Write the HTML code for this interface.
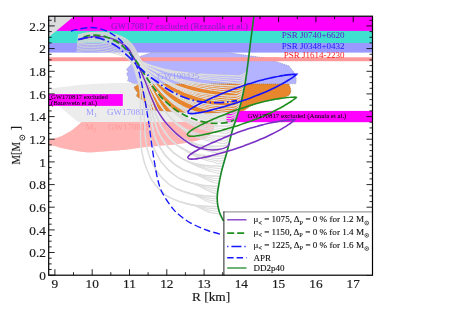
<!DOCTYPE html>
<html><head><meta charset="utf-8"><title>M-R</title><style>html,body{margin:0;padding:0;background:#fff;}body{width:457px;height:324px;overflow:hidden;font-family:"Liberation Serif",serif;}svg{display:block;will-change:transform;}</style></head><body>
<svg width="457" height="324" viewBox="0 0 457 324"><defs><filter id="idf" filterUnits="userSpaceOnUse" x="0" y="0" width="457" height="324"><feOffset dx="0" dy="0"/></filter><clipPath id="plot"><rect x="48.7" y="16.2" width="323.8" height="259"/></clipPath></defs><rect width="457" height="324" fill="#fff"/><g filter="url(#idf)"><g clip-path="url(#plot)">
<rect x="40" y="16.2" width="340" height="26.8" fill="#40e0d0"/>
<rect x="40" y="43" width="340" height="9.6" fill="#9999ff"/>
<rect x="40" y="57.3" width="340" height="3.9" fill="#ff9999"/>
<rect x="40" y="16.2" width="340" height="14.7" fill="#ff00ff"/>
<path d="M50.9 88.9C51.8 88.1 57.6 87.5 60 87.2C62.4 86.9 68.6 86.2 71.5 85.9C74.4 85.6 81.5 84.9 85 84.6C88.5 84.3 97.2 83.8 101.3 83.6C105.4 83.4 115.5 83 120 83C124.5 83 134.2 83.1 140 83.2C145.8 83.3 163 83.7 170 84C177 84.3 193.2 85.1 200 86C206.8 86.9 224.3 90.4 228 92C231.7 93.6 231.8 97.7 232 100C232.2 102.3 230.7 109.4 230 112C229.3 114.6 235.3 120.8 226 122C216.7 123.2 165.9 122 150 122C134.1 122 98.2 122 90 122C81.8 122 81.4 122 80 122C78.6 122 78.1 122.1 77.6 121.9C77.1 121.7 76.2 120.7 75.5 120.1C74.8 119.5 72.7 117.6 71.5 116.6C70.3 115.6 66.8 112.6 65.4 111.4C64 110.2 60.5 107.4 59.3 106.1C58.1 104.8 55.9 101.4 55 100C54.1 98.6 52.5 95.3 52 94C51.5 92.7 50 89.7 50.9 88.9Z" fill="#ececec"/>
<path d="M48.8 140.3C49.8 139.5 55.8 138.2 57.5 137.6C59.2 137 62.1 135.6 63.5 134.9C64.9 134.2 68.4 132.4 69.8 131.5C71.2 130.6 74.2 128.3 75.5 127.2C76.8 126.1 80.1 123 81.1 122.4C82.1 121.8 79.5 122 84 122C88.5 122 110 122 120 122C130 122 160.1 122 170 122C179.9 122 200 122 205 122.2C210 122.4 211.4 122.9 212.5 123.5C213.6 124.1 214.2 126 214.2 127C214.2 128 213.4 130.8 212.5 132C211.6 133.2 208.2 136.5 206.3 137.6C204.4 138.7 199.5 140.2 196 141C192.5 141.8 181.7 143.8 176.3 144.4C170.9 145 154.8 146 150 146.5C145.2 147 138.5 148 135 148.4C131.5 148.8 124.1 149.8 120 150.2C115.9 150.6 103.8 151.5 100 151.8C96.2 152.1 90.2 152.6 87.3 152.5C84.4 152.4 77.6 151.2 75 150.8C72.4 150.4 67 149.3 65 148.8C63 148.3 59.4 147.4 57.5 146.9C55.6 146.4 49.8 145.4 48.8 144.6C47.8 143.8 47.8 141.1 48.8 140.3Z" fill="#ffb3b3"/>
<rect x="40" y="94.1" width="82.8" height="11.8" fill="#ff00ff"/>
<rect x="226.4" y="110.9" width="160" height="11.3" fill="#ff00ff"/>
<path d="M151.5 52.6L229 52.6L245 55L263 57.6L277.5 61.9L288.9 65.8L295 73.6L296.3 79L296 83.8L270 83.8L200 83.6L134 83.6L127.5 81L128.5 77.5L126.5 74L128.1 71.5L126.2 69.4L129 66.5L132 63.2L138.6 56.7Z" fill="#b3b3ff" stroke="#777" stroke-width="0.5" stroke-dasharray="0.8 1.2"/>
<path d="M134 87.3L137.3 84.9L141.9 84L160 83.9L200 83.8L288.9 83.9L290.5 88L291 92L289.5 95L286 96.8L280 98.6L270 100.4L260 102.5L250 106.5L243.8 110.8L228 112.5L205 113.3L190 112.8L166.3 111.3L150 110L145.3 106L145.1 102.5L142.8 100.2L139.1 98L136.3 96.1L137.7 92.8L135.4 90Z" fill="#e8862e" stroke="#555" stroke-width="0.5" stroke-dasharray="0.8 1.2"/>
<rect x="139" y="57.3" width="140" height="3.9" fill="#ff9999"/>
<g fill="none" stroke="#d6d6d6" stroke-width="0.9">
<path d="M78 35C79.2 34.7 82.9 33.4 85.4 33C87.9 32.5 90.5 32.5 93.1 32.4C95.6 32.3 98.2 32.1 100.7 32.2C103.3 32.3 105.8 32.5 108.4 32.9C110.9 33.2 113.4 33.7 115.9 34.5C118.3 35.2 120.7 36 123 37.2C125.2 38.3 127.5 39.7 129.4 41.4C131.2 43 132.9 45.1 134.2 47.2C135.6 49.3 136.5 51.8 137.6 54.1C138.7 56.4 139.8 59.5 141 61C142.2 62.5 144.1 62.8 144.7 63.1"/>
<path d="M78 35.4C79.2 35.1 82.8 33.8 85.3 33.4C87.8 33 90.4 32.9 93 32.8C95.5 32.7 98 32.6 100.6 32.7C103.1 32.7 105.7 32.9 108.2 33.3C110.7 33.7 113.3 34.2 115.7 34.9C118.1 35.6 120.5 36.4 122.8 37.6C125 38.7 127.3 40 129.1 41.7C131 43.3 132.7 45.4 134 47.5C135.4 49.6 136.3 52 137.4 54.3C138.6 56.6 139.6 59.7 140.8 61.1C142 62.6 143.9 62.9 144.6 63.2"/>
<path d="M77.9 35.9C79.1 35.6 82.8 34.3 85.3 33.9C87.7 33.5 90.3 33.5 92.8 33.3C95.4 33.2 97.9 33.1 100.4 33.2C103 33.3 105.5 33.5 108 33.8C110.5 34.2 113 34.7 115.5 35.4C117.9 36.1 120.3 36.9 122.5 38C124.8 39.1 127 40.5 128.9 42.1C130.8 43.7 132.4 45.7 133.8 47.8C135.2 49.8 136.1 52.2 137.2 54.5C138.4 56.8 139.5 59.7 140.6 61.3C141.7 62.9 143.4 63.6 143.9 64.1"/>
<path d="M77.9 36.4C79.1 36.1 82.7 34.9 85.2 34.5C87.7 34.1 90.2 34 92.7 33.9C95.2 33.8 97.8 33.7 100.3 33.8C102.8 33.9 105.3 34 107.8 34.4C110.3 34.8 112.8 35.3 115.2 35.9C117.6 36.6 120 37.4 122.2 38.5C124.5 39.6 126.7 40.9 128.6 42.5C130.5 44.1 132.1 46.1 133.5 48.1C134.9 50.1 135.9 52.5 137 54.7C138.2 57 139.3 59.9 140.4 61.5C141.5 63.1 143.2 63.8 143.7 64.2"/>
<path d="M77.8 37C79 36.6 82.6 35.5 85.1 35.1C87.6 34.7 90.1 34.6 92.6 34.5C95.1 34.4 97.6 34.3 100.1 34.4C102.6 34.5 105.1 34.7 107.6 35C110.1 35.4 112.5 35.8 114.9 36.5C117.3 37.2 119.7 38 121.9 39.1C124.2 40.1 126.4 41.4 128.3 43C130.2 44.5 131.8 46.4 133.3 48.4C134.7 50.4 135.6 52.8 136.8 55C138 57.2 139.1 60 140.2 61.7C141.2 63.4 142.6 64.5 143 65.1"/>
<path d="M77.8 37.5C79 37.2 82.6 36.1 85 35.7C87.4 35.3 90 35.3 92.5 35.1C94.9 35 97.4 35 99.9 35C102.4 35.1 104.9 35.3 107.4 35.6C109.8 36 112.3 36.5 114.7 37.1C117 37.8 119.4 38.6 121.6 39.6C123.9 40.7 126.1 41.9 128 43.4C129.9 45 131.5 46.8 133 48.8C134.4 50.8 135.4 53.1 136.6 55.2C137.7 57.4 138.9 60.2 139.9 61.9C141 63.6 142.4 64.7 142.8 65.3"/>
<path d="M77.7 38.1C78.9 37.8 82.5 36.7 84.9 36.3C87.3 35.9 89.8 35.9 92.3 35.8C94.8 35.7 97.3 35.6 99.7 35.7C102.2 35.8 104.7 35.9 107.1 36.3C109.6 36.6 112 37.1 114.4 37.7C116.8 38.4 119.1 39.1 121.3 40.2C123.5 41.2 125.8 42.4 127.6 43.9C129.5 45.4 131.2 47.2 132.7 49.2C134.1 51.1 135.2 53.4 136.3 55.5C137.5 57.7 138.7 60.4 139.7 62.1C140.7 63.9 141.9 65.3 142.4 66"/>
<path d="M77.7 38.7C78.9 38.4 82.4 37.3 84.8 37C87.2 36.6 89.7 36.6 92.2 36.5C94.6 36.4 97.1 36.3 99.5 36.4C102 36.4 104.5 36.6 106.9 37C109.3 37.3 111.7 37.7 114.1 38.4C116.5 39 118.8 39.7 121 40.7C123.2 41.8 125.4 42.9 127.3 44.4C129.2 45.9 130.9 47.7 132.4 49.6C133.8 51.5 134.9 53.7 136.1 55.8C137.3 57.9 138.4 60.6 139.5 62.3C140.5 64.1 141.7 65.5 142.2 66.1"/>
<path d="M77.6 39.3C78.8 39 82.3 38 84.7 37.6C87.1 37.2 89.6 37.2 92 37.1C94.5 37 96.9 37 99.3 37C101.8 37.1 104.2 37.3 106.6 37.6C109 38 111.5 38.4 113.8 39C116.2 39.6 118.5 40.4 120.7 41.3C122.9 42.3 125.1 43.5 127 44.9C128.9 46.4 130.6 48.1 132.1 49.9C133.5 51.8 134.6 54 135.8 56.1C137 58.2 138.2 60.8 139.2 62.5C140.2 64.3 141.5 65.9 142 66.5"/>
<path d="M77.6 39.9C78.7 39.7 82.2 38.6 84.6 38.3C87 37.9 89.5 37.9 91.9 37.8C94.3 37.7 96.7 37.7 99.1 37.7C101.6 37.8 104 38 106.4 38.3C108.8 38.6 111.2 39.1 113.5 39.7C115.8 40.3 118.2 41 120.4 41.9C122.5 42.9 124.7 44 126.6 45.4C128.5 46.8 130.3 48.5 131.8 50.3C133.2 52.2 134.4 54.3 135.6 56.3C136.8 58.4 137.9 61 138.9 62.8C140 64.5 141.3 66 141.8 66.7"/>
<path d="M77.5 40.6C78.7 40.3 82.1 39.3 84.5 39C86.9 38.6 89.3 38.6 91.7 38.5C94.1 38.4 96.5 38.4 98.9 38.5C101.3 38.5 103.7 38.7 106.1 39C108.5 39.3 110.9 39.8 113.2 40.4C115.5 41 117.8 41.6 120 42.6C122.2 43.5 124.4 44.6 126.3 46C128.2 47.3 129.9 49 131.4 50.7C132.9 52.5 134.1 54.6 135.3 56.6C136.5 58.7 137.6 61.2 138.7 63C139.7 64.8 141.1 66.5 141.6 67.2"/>
<path d="M77.5 41.1C78.6 40.9 82.1 39.9 84.4 39.5C86.8 39.2 89.2 39.2 91.6 39.1C94 39 96.4 39 98.8 39.1C101.1 39.1 103.5 39.3 105.9 39.6C108.3 39.9 110.6 40.4 113 40.9C115.3 41.5 117.6 42.2 119.7 43.1C121.9 44 124.1 45.1 126 46.4C127.9 47.7 129.6 49.3 131.2 51.1C132.7 52.8 133.9 54.9 135.1 56.9C136.3 58.9 137.4 61.4 138.4 63.2C139.5 64.9 140.9 66.6 141.4 67.3"/>
<path d="M77.4 41.9C78.5 41.6 82 40.7 84.3 40.4C86.6 40 89 40 91.4 40C93.8 39.9 96.1 39.8 98.5 39.9C100.9 40 103.3 40.2 105.6 40.5C107.9 40.8 110.3 41.2 112.6 41.7C114.9 42.3 117.2 42.9 119.3 43.8C121.5 44.7 123.6 45.7 125.6 47C127.5 48.3 129.2 49.9 130.8 51.6C132.3 53.3 133.5 55.2 134.8 57.2C136 59.2 137.1 61.7 138.1 63.5C139.2 65.3 140.5 67.2 141 67.9"/>
<path d="M77.3 42.4C78.5 42.1 81.9 41.2 84.2 40.9C86.6 40.5 88.9 40.5 91.3 40.5C93.7 40.4 96 40.3 98.4 40.4C100.7 40.5 103.1 40.7 105.4 41C107.8 41.3 110.1 41.7 112.4 42.2C114.6 42.8 116.9 43.4 119.1 44.2C121.2 45.1 123.4 46.1 125.3 47.4C127.2 48.7 129 50.2 130.5 51.9C132.1 53.5 133.3 55.5 134.6 57.4C135.8 59.4 136.9 61.9 137.9 63.6C139 65.4 140.4 67.3 140.9 68.1"/>
<path d="M77.3 43.2C78.4 43 81.8 42.1 84.1 41.8C86.4 41.5 88.8 41.5 91.1 41.4C93.4 41.4 95.8 41.3 98.1 41.4C100.4 41.5 102.8 41.7 105.1 41.9C107.4 42.2 109.7 42.6 111.9 43.1C114.2 43.7 116.5 44.3 118.6 45.1C120.8 45.9 122.9 46.9 124.8 48.1C126.7 49.4 128.5 50.8 130.1 52.4C131.7 54 133 55.9 134.2 57.8C135.5 59.7 136.5 62.1 137.6 63.9C138.6 65.8 140 67.9 140.5 68.7"/>
<path d="M77.2 43.6C78.4 43.4 81.7 42.5 84 42.2C86.3 41.9 88.7 41.9 91 41.8C93.3 41.8 95.6 41.7 98 41.8C100.3 41.9 102.6 42 104.9 42.3C107.2 42.6 109.5 43 111.8 43.5C114 44 116.3 44.6 118.4 45.4C120.6 46.3 122.7 47.2 124.6 48.4C126.5 49.6 128.3 51 129.9 52.6C131.5 54.2 132.8 56.1 134.1 58C135.3 59.9 136.4 62.3 137.4 64.1C138.5 65.9 139.9 68 140.3 68.8"/>
<path d="M77.1 44.6C78.3 44.4 81.6 43.6 83.9 43.3C86.2 43 88.5 43 90.8 42.9C93.1 42.9 95.4 42.8 97.6 42.9C99.9 43 102.2 43.2 104.5 43.4C106.8 43.7 109.1 44.1 111.3 44.6C113.5 45.1 115.8 45.6 117.9 46.4C120 47.2 122.1 48.1 124.1 49.3C126 50.4 127.8 51.8 129.4 53.3C131 54.8 132.4 56.6 133.6 58.4C134.9 60.3 136 62.6 137 64.4C138 66.3 139.3 68.7 139.8 69.5"/>
<path d="M77 46C78.1 45.8 81.4 45 83.7 44.8C85.9 44.5 88.2 44.5 90.4 44.5C92.7 44.4 94.9 44.4 97.2 44.5C99.5 44.6 101.7 44.7 104 45C106.2 45.2 108.4 45.6 110.6 46.1C112.8 46.5 115 47 117.1 47.8C119.3 48.5 121.4 49.3 123.3 50.4C125.2 51.5 127.1 52.7 128.7 54.2C130.3 55.6 131.8 57.3 133.1 59.1C134.4 60.9 135.4 63 136.4 64.9C137.4 66.8 138.6 69.5 139.1 70.4"/>
<path d="M76.9 47.4C78 47.2 81.2 46.5 83.4 46.3C85.6 46.1 87.9 46.1 90.1 46C92.3 46 94.5 46 96.7 46.1C99 46.1 101.2 46.3 103.4 46.5C105.6 46.8 107.8 47.1 110 47.5C112.1 48 114.3 48.4 116.4 49.1C118.5 49.8 120.6 50.6 122.5 51.6C124.4 52.6 126.3 53.7 128 55.1C129.7 56.4 131.2 58 132.5 59.7C133.8 61.4 134.8 63.5 135.8 65.4C136.8 67.4 137.9 70.3 138.3 71.3"/>
<path d="M76.8 48.9C77.8 48.7 81 48 83.2 47.8C85.4 47.6 87.6 47.6 89.7 47.6C91.9 47.6 94.1 47.6 96.3 47.7C98.5 47.8 100.6 47.9 102.8 48.1C105 48.4 107.1 48.7 109.3 49.1C111.4 49.5 113.6 49.9 115.6 50.5C117.7 51.1 119.8 51.8 121.7 52.8C123.6 53.7 125.6 54.7 127.3 56C129 57.2 130.6 58.7 131.9 60.4C133.2 62 134.3 64 135.2 66C136.2 67.9 137.2 71.2 137.6 72.2"/>
<path d="M76.6 50.3C77.7 50.2 80.9 49.6 83 49.4C85.1 49.2 87.3 49.2 89.4 49.2C91.5 49.2 93.7 49.2 95.8 49.3C98 49.4 100.1 49.5 102.2 49.7C104.4 50 106.5 50.2 108.6 50.6C110.7 51 112.8 51.3 114.9 51.9C116.9 52.5 119 53.1 120.9 54C122.9 54.8 124.8 55.7 126.5 56.9C128.3 58.1 129.9 59.4 131.3 61C132.6 62.6 133.7 64.4 134.6 66.5C135.6 68.5 136.5 72.1 136.9 73.2"/>
<path d="M76.5 51.8C77.5 51.7 80.7 51.1 82.7 51C84.8 50.8 86.9 50.8 89 50.8C91.1 50.8 93.2 50.8 95.3 50.9C97.4 51 99.5 51.2 101.6 51.4C103.7 51.6 105.8 51.8 107.9 52.2C110 52.5 112 52.8 114.1 53.3C116.1 53.8 118.1 54.4 120.1 55.2C122 55.9 124 56.7 125.8 57.8C127.6 58.9 129.3 60.2 130.7 61.7C132.1 63.2 133.1 64.9 134 67C134.9 69.1 135.8 73.1 136.2 74.3"/>
</g>
<g fill="none" stroke="#dcdcdc" stroke-width="1.5">
<path d="M137.6 54.1C138.2 55.3 139.8 59.5 141 61C142.2 62.5 143.4 62.5 144.7 63.1C145.9 63.8 147.2 64.4 148.5 64.9C149.8 65.4 151.2 65.7 152.6 66.1C153.9 66.5 155.3 66.8 156.7 67.2C158 67.6 159.4 68 160.7 68.4C162.1 68.8 163.4 69.2 164.8 69.6C166.2 69.9 167.6 70.1 169 70.3C170.3 70.6 171.7 70.8 173.1 71.1C174.5 71.3 175.9 71.5 177.3 71.7C178.7 71.9 180.1 72 181.4 72.2C182.8 72.4 184.2 72.6 185.6 72.7C187 72.9 188.4 73.1 189.8 73.3C191.2 73.4 192.6 73.5 194 73.6C195.4 73.7 196.8 73.8 198.2 74C199.6 74.1 201 74.2 202.4 74.3C203.8 74.4 205.2 74.5 206.6 74.6C208 74.7 209.4 74.7 210.8 74.8C212.2 74.9 213.6 75 215 75C216.4 75.1 217.8 75.2 219.2 75.3C220.6 75.3 222 75.4 223.4 75.4C224.8 75.5 226.2 75.6 227.7 75.6C229.1 75.7 230.5 75.8 231.9 75.8C233.3 75.8 234.7 75.9 236.1 75.9C237.5 75.9 238.7 76.2 240.2 75.8C241.6 75.4 243.8 74.4 244.9 73.5C246 72.6 246.6 71 246.9 70.5"/>
<path d="M137.2 54.5C137.8 55.6 139.5 59.7 140.6 61.3C141.7 62.9 142.8 63.2 143.9 64.1C145 65 146.1 65.9 147.3 66.6C148.5 67.4 149.8 67.9 151.1 68.5C152.4 69.1 153.7 69.7 155 70.3C156.3 70.9 157.6 71.5 158.9 72.1C160.2 72.7 161.5 73.3 162.8 73.9C164.1 74.4 165.5 74.8 166.8 75.2C168.2 75.7 169.5 76.1 170.8 76.6C172.2 77 173.5 77.4 174.9 77.8C176.2 78.2 177.6 78.5 179 78.9C180.4 79.3 181.7 79.6 183.1 80C184.5 80.4 185.8 80.7 187.2 81C188.6 81.3 190 81.6 191.4 81.8C192.8 82.1 194.2 82.3 195.6 82.6C197 82.8 198.4 83.1 199.8 83.3C201.3 83.5 202.7 83.7 204.1 83.8C205.5 84 207 84.1 208.4 84.3C209.8 84.5 211.2 84.6 212.7 84.8C214.1 84.9 215.5 85 216.9 85.1C218.4 85.2 219.8 85.3 221.2 85.4C222.7 85.5 224.1 85.6 225.5 85.6C227 85.7 228.4 85.8 229.8 85.8C231.3 85.9 232.7 85.9 234.1 85.9C235.6 85.9 237 86.2 238.6 85.8C240.1 85.4 242.3 84.4 243.5 83.6C244.6 82.7 245.2 81 245.5 80.5"/>
<path d="M136.8 55C137.4 56.1 139.1 60 140.2 61.7C141.2 63.4 142.1 64 143 65.1C144 66.2 144.9 67.4 146 68.4C147.1 69.4 148.4 70.1 149.6 71C150.8 71.8 152 72.6 153.3 73.4C154.5 74.2 155.8 75 157 75.8C158.3 76.6 159.5 77.5 160.8 78.2C162.1 78.9 163.4 79.5 164.7 80.1C166 80.8 167.3 81.5 168.6 82.1C169.9 82.7 171.2 83.4 172.5 83.9C173.8 84.5 175.2 85 176.5 85.6C177.9 86.1 179.2 86.7 180.6 87.3C181.9 87.8 183.3 88.3 184.6 88.8C186 89.3 187.4 89.6 188.8 90C190.3 90.4 191.7 90.8 193.1 91.2C194.5 91.6 195.9 92 197.3 92.3C198.7 92.6 200.2 92.8 201.6 93.1C203.1 93.3 204.5 93.6 206 93.8C207.4 94 208.8 94.3 210.3 94.5C211.7 94.7 213.2 94.8 214.7 95C216.1 95.1 217.6 95.2 219 95.3C220.5 95.4 222 95.6 223.4 95.6C224.9 95.7 226.4 95.8 227.8 95.9C229.3 95.9 230.8 96 232.2 96C233.7 96 234.9 96.3 236.5 95.9C238 95.5 240.2 94.5 241.4 93.6C242.6 92.7 243.2 91.1 243.6 90.6"/>
<path d="M136.3 55.5C136.9 56.6 138.7 60.4 139.7 62.1C140.7 63.9 141.5 64.7 142.4 66C143.3 67.2 144 68.6 145 69.8C146 71 147.2 72 148.4 73C149.5 74.1 150.6 75.1 151.8 76.1C152.9 77.1 154.1 78.1 155.2 79.1C156.4 80.2 157.5 81.2 158.7 82.2C159.9 83.1 161.1 83.9 162.4 84.8C163.6 85.7 164.8 86.5 166 87.4C167.2 88.2 168.5 89.1 169.7 89.9C171 90.7 172.3 91.4 173.6 92.1C174.9 92.9 176.2 93.7 177.5 94.4C178.8 95.1 180.2 95.8 181.5 96.4C182.9 97.1 184.3 97.6 185.7 98.1C187.1 98.7 188.5 99.3 189.9 99.8C191.3 100.3 192.7 100.8 194.1 101.3C195.6 101.7 197.1 102 198.5 102.4C200 102.7 201.5 103 202.9 103.3C204.4 103.6 205.9 104 207.4 104.3C208.8 104.5 210.3 104.7 211.8 104.9C213.3 105 214.8 105.1 216.3 105.3C217.8 105.4 219.3 105.6 220.9 105.7C222.4 105.8 223.9 105.9 225.4 105.9C226.9 106 228.5 106 229.9 106C231.3 106 232.5 106.3 234 105.9C235.5 105.5 237.9 104.5 239.1 103.6C240.4 102.8 241.1 101.1 241.5 100.6"/>
<path d="M135.8 56.1C136.4 57.1 138.2 60.8 139.2 62.5C140.2 64.3 141.1 65.2 142 66.5C142.9 67.9 143.7 69.3 144.7 70.6C145.6 71.9 146.6 73.2 147.6 74.4C148.5 75.7 149.5 77 150.5 78.2C151.5 79.5 152.5 80.7 153.5 81.9C154.6 83.2 155.5 84.5 156.6 85.7C157.6 86.9 158.7 87.9 159.8 89C160.9 90.1 161.9 91.3 163 92.4C164.1 93.4 165.2 94.5 166.4 95.5C167.6 96.5 168.8 97.5 170 98.5C171.2 99.4 172.4 100.5 173.6 101.4C174.9 102.3 176.3 103.1 177.6 103.9C179 104.6 180.3 105.4 181.7 106.1C183.1 106.9 184.4 107.6 185.9 108.3C187.3 108.9 188.7 109.5 190.2 110.1C191.6 110.6 193.1 111.3 194.5 111.7C196 112.2 197.6 112.5 199.1 112.9C200.6 113.3 202.1 113.7 203.6 114C205.2 114.3 206.7 114.6 208.3 114.8C209.8 115 211.4 115.1 212.9 115.3C214.5 115.4 216 115.6 217.6 115.7C219.2 115.8 220.7 115.9 222.3 116C223.8 116 225.5 116 227 116C228.4 116 229.5 116.3 231 116C232.6 115.6 234.9 114.6 236.2 113.7C237.4 112.9 238.2 111.2 238.6 110.8"/>
<path d="M135.3 56.6C135.9 57.7 137.6 61.2 138.7 63C139.7 64.8 140.6 65.7 141.6 67.2C142.5 68.6 143.3 70.1 144.1 71.5C145 73 145.9 74.4 146.7 75.9C147.6 77.3 148.4 78.8 149.3 80.2C150.2 81.7 151 83.1 151.9 84.6C152.8 86 153.7 87.5 154.6 88.8C155.5 90.2 156.5 91.5 157.4 92.8C158.4 94.1 159.3 95.5 160.3 96.8C161.2 98.1 162.2 99.3 163.3 100.5C164.4 101.8 165.5 102.9 166.6 104.1C167.7 105.3 168.8 106.5 170 107.6C171.1 108.7 172.4 109.7 173.7 110.7C175 111.7 176.3 112.6 177.6 113.6C178.9 114.5 180.3 115.4 181.6 116.2C183 117.1 184.5 117.7 186 118.5C187.4 119.2 188.8 120.1 190.3 120.7C191.8 121.3 193.4 121.7 195 122.2C196.5 122.7 198.1 123.1 199.6 123.6C201.2 124 202.8 124.3 204.4 124.6C206 124.9 207.6 125.1 209.3 125.3C210.9 125.5 212.5 125.6 214.1 125.8C215.8 125.9 217.4 126 219 126C220.7 126.1 222.5 126.1 223.9 126.1C225.4 126.1 226.3 126.3 227.8 126C229.3 125.7 231.6 124.9 232.9 124.1C234.1 123.4 234.9 122.1 235.3 121.6"/>
<path d="M134.8 57.2C135.3 58.3 137.1 61.7 138.1 63.5C139.2 65.3 140.1 66.4 141 67.9C141.9 69.5 142.6 71.1 143.4 72.7C144.2 74.2 145 75.8 145.8 77.4C146.6 79 147.3 80.6 148.1 82.2C148.9 83.7 149.6 85.3 150.4 86.9C151.2 88.5 152 90.1 152.8 91.6C153.6 93.2 154.4 94.6 155.3 96.1C156.1 97.6 156.9 99.1 157.8 100.5C158.7 102 159.5 103.4 160.5 104.8C161.4 106.2 162.4 107.6 163.4 109C164.4 110.3 165.4 111.7 166.5 113C167.5 114.3 168.6 115.6 169.8 116.8C170.9 118 172.2 119.1 173.5 120.3C174.7 121.4 175.9 122.6 177.2 123.6C178.6 124.7 180.1 125.5 181.5 126.4C182.9 127.4 184.3 128.4 185.8 129.2C187.3 130 188.9 130.5 190.5 131.1C192.1 131.7 193.7 132.4 195.3 133C196.9 133.5 198.6 133.9 200.3 134.3C201.9 134.6 203.6 135 205.3 135.3C207 135.5 208.7 135.6 210.4 135.8C212.1 135.9 213.8 136 215.5 136.1C217.3 136.2 219.1 136.2 220.7 136.2C222.3 136.2 223.4 136.3 224.9 136C226.5 135.8 228.6 135.1 229.8 134.6C230.9 134 231.5 132.9 231.9 132.5"/>
<path d="M134.2 57.8C134.8 58.8 136.5 62.1 137.6 63.9C138.6 65.8 139.6 67.1 140.5 68.7C141.3 70.3 142 72.1 142.7 73.8C143.4 75.5 144.2 77.2 144.9 78.9C145.6 80.6 146.2 82.4 146.9 84.1C147.5 85.8 148.2 87.6 148.9 89.3C149.5 91 150.3 92.7 151 94.4C151.7 96.1 152.4 97.7 153.1 99.4C153.8 101 154.6 102.6 155.3 104.3C156.1 105.9 156.8 107.5 157.6 109.1C158.4 110.7 159.2 112.3 160.1 113.8C161 115.4 162 116.9 163 118.4C163.9 119.9 164.8 121.5 165.8 122.9C166.9 124.4 168.1 125.7 169.3 127C170.5 128.4 171.5 129.8 172.8 131C174.1 132.3 175.6 133.3 177 134.4C178.4 135.5 179.7 136.8 181.3 137.7C182.8 138.6 184.5 139.3 186.1 140C187.7 140.8 189.3 141.7 191 142.3C192.6 143 194.4 143.4 196.1 143.9C197.9 144.4 199.6 145 201.3 145.3C203.1 145.6 204.9 145.6 206.7 145.8C208.5 145.9 210.3 146.1 212.1 146.2C213.9 146.3 215.7 146.3 217.5 146.3C219.2 146.2 220.8 146.3 222.4 146.1C224 145.9 226 145.4 227.2 145C228.3 144.5 228.8 143.7 229.1 143.4"/>
<path d="M133.6 58.4C134.2 59.4 136 62.6 137 64.4C138 66.3 139 67.8 139.8 69.5C140.6 71.3 141.3 73.2 142 75C142.7 76.8 143.4 78.6 144.1 80.4C144.8 82.2 145.4 84.1 146 85.9C146.7 87.8 147.3 89.6 147.9 91.5C148.5 93.3 149.2 95.1 149.8 96.9C150.4 98.8 151 100.5 151.6 102.3C152.2 104.1 152.8 105.9 153.5 107.6C154.1 109.4 154.7 111.2 155.3 112.9C156 114.7 156.7 116.4 157.4 118.2C158.2 119.9 159 121.5 159.8 123.2C160.6 124.9 161.3 126.6 162.3 128.3C163.2 129.9 164.4 131.4 165.5 132.9C166.6 134.4 167.6 136 168.9 137.4C170.1 138.8 171.5 140.1 172.8 141.4C174.2 142.7 175.6 144 177.1 145.1C178.6 146.2 180.3 147.1 181.9 148C183.5 149 185.1 150 186.8 150.8C188.5 151.6 190.3 152.2 192.1 152.8C193.9 153.4 195.7 154.1 197.5 154.5C199.3 154.9 201.2 155 203.1 155.2C205 155.5 206.9 155.7 208.7 155.8C210.6 156 212.6 156.1 214.4 156.1C216.2 156.2 218.1 156.2 219.7 156.1C221.4 156 223.3 155.7 224.4 155.4C225.5 155.1 226 154.5 226.3 154.3"/>
<path d="M133.1 59.1C133.6 60 135.4 63 136.4 64.9C137.4 66.8 138.3 68.6 139.1 70.4C139.9 72.3 140.6 74.2 141.3 76.1C142 78.1 142.7 80 143.4 81.9C144.1 83.8 144.7 85.8 145.3 87.7C145.9 89.6 146.6 91.6 147.2 93.5C147.8 95.5 148.4 97.4 148.9 99.4C149.4 101.3 149.8 103.2 150.3 105.1C150.8 107.1 151.3 109 151.8 110.9C152.3 112.8 152.7 114.7 153.3 116.6C153.8 118.5 154.3 120.4 154.9 122.3C155.5 124.1 156 126 156.7 127.8C157.4 129.7 158 131.5 158.9 133.3C159.7 135.1 160.8 136.8 161.8 138.5C162.8 140.1 163.9 141.8 165.1 143.4C166.3 145 167.5 146.5 168.8 148C170.1 149.4 171.5 150.9 173 152.2C174.5 153.4 176.1 154.6 177.7 155.7C179.3 156.8 181 157.9 182.8 158.9C184.5 159.8 186.2 160.7 188.1 161.5C189.9 162.2 191.8 162.8 193.7 163.3C195.7 163.8 197.6 164.2 199.6 164.5C201.5 164.8 203.5 165.1 205.5 165.4C207.5 165.6 209.4 165.8 211.4 165.9C213.4 166 215.5 166 217.4 166.1C219.3 166.2 222 166.3 222.9 166.3"/>
<path d="M132.5 59.7C133 60.7 134.8 63.5 135.8 65.4C136.8 67.4 137.6 69.3 138.3 71.3C139.1 73.3 139.8 75.3 140.6 77.3C141.3 79.3 142 81.4 142.7 83.4C143.4 85.4 144 87.5 144.6 89.5C145.2 91.5 145.9 93.6 146.4 95.6C147 97.7 147.5 99.7 147.9 101.8C148.4 103.9 148.6 105.9 149 108C149.4 110 149.7 112.1 150.1 114.1C150.5 116.2 150.8 118.2 151.2 120.3C151.6 122.3 152 124.3 152.4 126.4C152.8 128.4 153.1 130.4 153.6 132.4C154.1 134.4 154.7 136.4 155.5 138.4C156.2 140.3 157.1 142.2 158.1 144C159.1 145.9 160.2 147.6 161.3 149.4C162.4 151.2 163.5 152.9 164.8 154.6C166 156.2 167.5 157.7 169 159.2C170.4 160.7 171.9 162.1 173.5 163.4C175.2 164.7 176.9 165.9 178.7 167C180.4 168.1 182.2 169.2 184.1 170.1C185.9 171 188 171.6 190 172.2C192 172.8 194 173.3 196 173.8C198.1 174.2 200.1 174.5 202.2 174.9C204.3 175.2 206.4 175.5 208.4 175.7C210.5 175.9 212.7 175.9 214.7 176C216.7 176.1 219.6 176.3 220.5 176.4"/>
<path d="M131.9 60.4C132.4 61.3 134.3 64 135.2 66C136.2 67.9 136.8 70.1 137.6 72.2C138.4 74.3 139.1 76.4 139.9 78.5C140.6 80.6 141.3 82.7 142 84.9C142.7 87 143.3 89.1 143.9 91.3C144.5 93.4 145.2 95.6 145.7 97.7C146.2 99.9 146.6 102.1 147 104.2C147.3 106.4 147.5 108.6 147.7 110.8C147.9 113 148.2 115.2 148.4 117.4C148.7 119.5 148.9 121.7 149.1 123.9C149.4 126.1 149.6 128.3 149.8 130.5C150.1 132.7 150.1 134.9 150.5 137C150.9 139.2 151.5 141.3 152.1 143.4C152.7 145.5 153.5 147.6 154.4 149.6C155.3 151.6 156.4 153.5 157.5 155.4C158.5 157.3 159.5 159.4 160.7 161.2C162 163 163.5 164.5 164.9 166.2C166.4 167.9 167.8 169.6 169.4 171.1C171 172.6 172.8 173.8 174.6 175.1C176.4 176.3 178.1 177.8 180.1 178.8C182 179.8 184.1 180.4 186.2 181.1C188.3 181.8 190.4 182.5 192.5 183.1C194.6 183.6 196.8 184 198.9 184.4C201.1 184.8 203.3 185.2 205.5 185.5C207.6 185.7 209.8 185.8 212 185.9C214.2 186.1 217.5 186.3 218.6 186.4"/>
<path d="M131.3 61C131.8 61.9 133.7 64.4 134.6 66.5C135.6 68.5 136.2 71 136.9 73.2C137.6 75.5 138.4 77.8 139.1 80.1C139.7 82.3 140.4 84.6 140.9 86.9C141.4 89.2 141.8 91.6 142.2 93.9C142.5 96.2 142.8 98.6 143.1 100.9C143.4 103.3 143.6 105.6 143.8 108C144 110.3 144 112.7 144.2 115.1C144.3 117.4 144.4 119.8 144.5 122.2C144.6 124.5 144.7 126.9 144.8 129.3C144.9 131.6 145 134 145.3 136.4C145.5 138.7 145.7 141.1 146.1 143.5C146.5 145.8 147 148.1 147.6 150.4C148.2 152.7 148.9 155 149.8 157.2C150.6 159.4 151.7 161.5 152.7 163.6C153.8 165.7 154.7 168 155.9 170C157.2 172 158.7 173.8 160.2 175.6C161.8 177.4 163.3 179.2 165 180.8C166.8 182.5 168.6 184 170.5 185.3C172.5 186.7 174.6 187.8 176.7 188.9C178.8 189.9 181.1 190.7 183.3 191.5C185.5 192.2 187.8 192.9 190.1 193.5C192.4 194 194.8 194.4 197.1 194.8C199.5 195.2 201.8 195.5 204.2 195.8C206.5 196 209.1 196 211.3 196.2C213.5 196.3 216.3 196.4 217.3 196.5"/>
<path d="M130.7 61.7C131.2 62.6 133.1 64.9 134 67C134.9 69.1 135.5 71.8 136.2 74.3C136.9 76.7 137.7 79.1 138.3 81.6C138.9 84 139.4 86.5 139.8 89C140.2 91.5 140.3 94 140.4 96.5C140.6 99.1 140.5 101.6 140.5 104.1C140.5 106.6 140.6 109.1 140.6 111.7C140.6 114.2 140.6 116.8 140.6 119.3C140.6 121.9 140.6 124.4 140.5 127C140.5 129.5 140.4 132.1 140.5 134.6C140.5 137.2 140.5 139.7 140.7 142.3C140.9 144.8 141.2 147.4 141.6 149.9C142 152.4 142.5 154.9 143.1 157.4C143.7 159.8 144.3 162.3 145.1 164.8C145.9 167.2 147 169.5 148 171.8C149 174.2 149.9 176.6 151.1 178.8C152.4 181 153.9 183.1 155.5 185C157.1 187 158.9 188.9 160.7 190.6C162.5 192.4 164.4 194.2 166.5 195.6C168.6 197 171 197.9 173.3 199C175.7 200 178 201 180.4 201.9C182.8 202.7 185.3 203.3 187.8 203.9C190.3 204.5 192.8 204.9 195.3 205.3C197.8 205.6 200.4 205.9 202.9 206.1C205.4 206.3 208 206.3 210.5 206.4C213.1 206.5 216.8 206.5 218 206.5"/>
</g>
<g fill="none" stroke="#dedede" stroke-width="1.15">
<path d="M137.5 54.2C138.1 55.3 139.7 59.6 140.9 61.1C142.1 62.6 143.4 62.5 144.6 63.2C145.9 63.8 147.2 64.4 148.5 64.9C149.8 65.4 151.2 65.8 152.6 66.2C153.9 66.7 155.3 67.1 156.6 67.5C158 68 159.4 68.4 160.7 68.8C162.1 69.3 163.4 69.7 164.8 70.1C166.2 70.5 167.6 70.7 169 71C170.3 71.3 171.7 71.6 173.1 71.9C174.5 72.1 175.9 72.4 177.3 72.6C178.7 72.8 180.1 73 181.4 73.2C182.8 73.5 184.2 73.7 185.6 73.9C187 74.1 188.4 74.3 189.8 74.5C191.2 74.7 192.6 74.8 194 75C195.4 75.1 196.8 75.2 198.2 75.4C199.6 75.5 201 75.7 202.4 75.8C203.8 76 205.2 76.1 206.6 76.2C208 76.3 209.4 76.4 210.8 76.5C212.2 76.6 213.6 76.8 215 76.9C216.4 77 217.8 77.1 219.2 77.2C220.6 77.3 222 77.4 223.4 77.5C224.8 77.5 226.2 77.6 227.7 77.7C229.1 77.8 230.5 77.9 231.9 78C233.3 78.1 234.8 78.1 236.1 78.2C237.4 78.2 238.4 78.7 239.8 78.3C241.2 77.9 243.4 76.9 244.6 76C245.7 75.1 246.2 73.5 246.6 73"/>
<path d="M137.4 54.3C138 55.4 139.6 59.7 140.8 61.1C142 62.6 143.3 62.6 144.6 63.2C145.8 63.9 147.1 64.4 148.4 65C149.7 65.5 151.1 65.9 152.5 66.4C153.9 66.9 155.2 67.4 156.6 67.9C158 68.3 159.3 68.8 160.7 69.3C162.1 69.7 163.4 70.3 164.8 70.7C166.2 71.1 167.6 71.3 169 71.7C170.3 72 171.7 72.4 173.1 72.7C174.5 73 175.9 73.2 177.3 73.5C178.7 73.8 180.1 74 181.4 74.3C182.8 74.5 184.2 74.8 185.6 75C187 75.3 188.4 75.5 189.8 75.7C191.2 76 192.6 76.1 194 76.3C195.4 76.5 196.8 76.7 198.2 76.8C199.6 77 201 77.2 202.4 77.4C203.8 77.5 205.2 77.7 206.6 77.9C208 78 209.4 78.1 210.8 78.3C212.2 78.4 213.6 78.6 215 78.7C216.4 78.8 217.8 79 219.2 79.1C220.6 79.2 222 79.4 223.4 79.5C224.8 79.6 226.2 79.7 227.7 79.8C229.1 80 230.5 80.1 231.9 80.2C233.3 80.3 234.8 80.3 236.1 80.4C237.3 80.5 238.1 81.1 239.4 80.8C240.8 80.5 243.1 79.4 244.2 78.5C245.3 77.6 245.9 76 246.2 75.5"/>
<path d="M137.3 54.4C137.9 55.5 139.5 59.7 140.7 61.2C141.9 62.7 143.2 62.7 144.5 63.3C145.7 63.9 147 64.5 148.3 65C149.7 65.6 151.1 66 152.5 66.6C153.8 67.1 155.2 67.7 156.6 68.2C157.9 68.7 159.3 69.2 160.7 69.7C162.1 70.2 163.4 70.8 164.8 71.2C166.2 71.7 167.6 72 169 72.4C170.3 72.7 171.7 73.1 173.1 73.5C174.5 73.8 175.9 74.1 177.3 74.4C178.7 74.7 180.1 75 181.4 75.3C182.8 75.6 184.2 75.9 185.6 76.1C187 76.4 188.4 76.7 189.8 77C191.2 77.2 192.6 77.4 194 77.6C195.4 77.8 196.8 78.1 198.2 78.3C199.6 78.5 201 78.7 202.4 78.9C203.8 79.1 205.2 79.3 206.6 79.5C208 79.7 209.4 79.8 210.8 80C212.2 80.2 213.6 80.3 215 80.5C216.4 80.7 217.8 80.9 219.2 81C220.6 81.2 222 81.3 223.4 81.5C224.8 81.6 226.2 81.8 227.7 81.9C229.1 82.1 230 82.2 231.9 82.4C233.8 82.6 237.1 83.5 239.1 83.3C241.1 83.1 242.7 81.9 243.8 81C245 80.1 245.5 78.5 245.9 78"/>
<path d="M137.1 54.6C137.7 55.8 139.4 59.8 140.5 61.4C141.6 63 142.7 63.3 143.8 64.2C144.9 65 146 65.9 147.2 66.7C148.4 67.4 149.8 68 151.1 68.6C152.3 69.3 153.6 69.9 155 70.6C156.3 71.2 157.6 71.9 158.9 72.5C160.2 73.1 161.5 73.8 162.8 74.4C164.1 74.9 165.5 75.4 166.8 75.9C168.2 76.3 169.5 76.8 170.8 77.3C172.2 77.8 173.5 78.2 174.9 78.7C176.2 79.1 177.6 79.5 179 79.9C180.4 80.3 181.7 80.7 183.1 81.1C184.5 81.5 185.8 81.9 187.2 82.2C188.6 82.6 190 82.8 191.4 83.1C192.8 83.4 194.2 83.7 195.6 84C197 84.3 198.4 84.6 199.8 84.8C201.3 85.1 202.7 85.2 204.1 85.4C205.5 85.6 207 85.8 208.4 86C209.8 86.2 211.2 86.4 212.7 86.6C214.1 86.7 215.5 86.9 216.9 87C218.4 87.1 219.8 87.3 221.2 87.4C222.7 87.5 224.1 87.6 225.5 87.7C227 87.8 228.4 87.9 229.8 88C231.3 88.1 232.8 88.1 234.1 88.2C235.5 88.2 236.6 88.7 238 88.3C239.5 88 241.8 86.9 243 86.1C244.1 85.2 244.8 83.5 245.1 83"/>
<path d="M137 54.7C137.6 55.9 139.3 59.9 140.4 61.5C141.5 63.1 142.6 63.4 143.7 64.2C144.8 65.1 145.9 66 147.1 66.7C148.3 67.5 149.7 68 151 68.7C152.3 69.4 153.6 70.2 154.9 70.8C156.2 71.5 157.5 72.2 158.9 72.9C160.2 73.5 161.5 74.3 162.8 74.9C164.1 75.5 165.5 76 166.8 76.5C168.2 77 169.5 77.6 170.8 78.1C172.2 78.6 173.5 79.1 174.9 79.5C176.2 80 177.6 80.4 179 80.8C180.4 81.3 181.7 81.7 183.1 82.2C184.5 82.6 185.8 83 187.2 83.4C188.6 83.8 190 84.1 191.4 84.4C192.8 84.7 194.2 85.1 195.6 85.4C197 85.7 198.4 86 199.8 86.3C201.3 86.6 202.7 86.8 204.1 87C205.5 87.3 207 87.5 208.4 87.7C209.8 87.9 211.2 88.2 212.7 88.4C214.1 88.6 215.5 88.7 216.9 88.9C218.4 89.1 219.8 89.2 221.2 89.4C222.7 89.5 224.1 89.7 225.5 89.8C227 90 228.4 90.1 229.8 90.2C231.3 90.3 232.9 90.4 234.1 90.5C235.4 90.6 236.1 91.2 237.5 90.8C238.9 90.5 241.2 89.4 242.4 88.6C243.6 87.7 244.3 86 244.7 85.5"/>
<path d="M136.9 54.9C137.5 56 139.2 60 140.3 61.6C141.4 63.2 142.5 63.5 143.6 64.3C144.7 65.2 145.8 66.1 147 66.8C148.3 67.6 149.6 68.1 150.9 68.8C152.2 69.5 153.6 70.4 154.9 71.1C156.2 71.8 157.5 72.6 158.8 73.3C160.2 74 161.5 74.7 162.8 75.4C164.1 76 165.5 76.5 166.8 77.1C168.2 77.7 169.5 78.3 170.8 78.8C172.2 79.4 173.5 79.9 174.9 80.4C176.2 80.9 177.6 81.3 179 81.8C180.4 82.3 181.7 82.8 183.1 83.2C184.5 83.7 185.8 84.2 187.2 84.6C188.6 85 190 85.3 191.4 85.7C192.8 86.1 194.2 86.4 195.6 86.8C197 87.1 198.4 87.5 199.8 87.8C201.3 88.1 202.7 88.4 204.1 88.6C205.5 88.9 207 89.1 208.4 89.4C209.8 89.7 211.2 89.9 212.7 90.2C214.1 90.4 215.5 90.6 216.9 90.8C218.4 91 219.8 91.2 221.2 91.4C222.7 91.5 224.1 91.7 225.5 91.9C227 92.1 227.9 92.2 229.8 92.4C231.7 92.6 235 93.6 237 93.3C239 93.1 240.7 91.9 241.9 91.1C243.1 90.2 243.8 88.5 244.1 88"/>
<path d="M136.7 55.1C137.3 56.2 139 60.1 140.1 61.8C141.1 63.5 142 64.1 142.9 65.2C143.9 66.3 144.8 67.5 145.9 68.5C147 69.5 148.3 70.2 149.5 71C150.8 71.9 152 72.8 153.2 73.6C154.5 74.5 155.8 75.3 157 76.1C158.3 77 159.5 77.9 160.8 78.6C162.1 79.4 163.4 80 164.7 80.7C166 81.4 167.3 82.1 168.6 82.8C169.9 83.4 171.2 84.1 172.5 84.7C173.8 85.4 175.2 85.9 176.5 86.5C177.9 87.1 179.2 87.7 180.6 88.3C181.9 88.9 183.3 89.4 184.6 89.9C186 90.4 187.4 90.8 188.8 91.3C190.3 91.7 191.7 92.1 193.1 92.6C194.5 93 195.9 93.4 197.3 93.8C198.7 94.1 200.2 94.4 201.6 94.6C203.1 94.9 204.5 95.2 206 95.5C207.4 95.8 208.8 96.1 210.3 96.3C211.7 96.5 213.2 96.7 214.7 96.8C216.1 97 217.6 97.1 219 97.3C220.5 97.4 222 97.6 223.4 97.7C224.9 97.9 226.4 98 227.8 98.1C229.3 98.2 230.9 98.2 232.2 98.2C233.6 98.3 234.5 98.7 235.9 98.4C237.4 98 239.7 97 240.8 96.1C242 95.2 242.7 93.6 243.1 93.1"/>
<path d="M136.6 55.2C137.1 56.4 138.9 60.2 139.9 61.9C141 63.6 141.9 64.2 142.8 65.3C143.8 66.4 144.7 67.6 145.8 68.6C146.9 69.5 148.2 70.2 149.5 71.1C150.7 72 152 72.9 153.2 73.8C154.5 74.7 155.7 75.6 157 76.5C158.3 77.3 159.5 78.3 160.8 79.1C162.1 79.9 163.4 80.6 164.7 81.3C166 82 167.3 82.8 168.6 83.5C169.9 84.2 171.2 84.9 172.5 85.6C173.8 86.2 175.2 86.8 176.5 87.4C177.9 88.1 179.2 88.7 180.6 89.3C181.9 89.9 183.3 90.6 184.6 91.1C186 91.6 187.4 92 188.8 92.5C190.3 93 191.7 93.5 193.1 93.9C194.5 94.4 195.9 94.9 197.3 95.3C198.7 95.6 200.2 95.9 201.6 96.2C203.1 96.5 204.5 96.8 206 97.1C207.4 97.5 208.8 97.8 210.3 98.1C211.7 98.3 213.2 98.5 214.7 98.7C216.1 98.9 217.6 99.1 219 99.3C220.5 99.4 222 99.6 223.4 99.8C224.9 100 226.4 100.1 227.8 100.2C229.3 100.4 231 100.4 232.2 100.5C233.5 100.6 234 101.2 235.4 100.9C236.7 100.6 239.1 99.5 240.3 98.6C241.5 97.7 242.2 96.1 242.6 95.6"/>
<path d="M136.4 55.4C137 56.5 138.8 60.3 139.8 62C140.9 63.7 141.8 64.3 142.7 65.4C143.7 66.5 144.6 67.7 145.7 68.6C146.8 69.6 148.2 70.2 149.4 71.1C150.6 72 151.9 73.1 153.2 74C154.4 75 155.7 75.9 157 76.8C158.3 77.7 159.5 78.7 160.8 79.5C162.1 80.4 163.4 81.1 164.7 81.9C166 82.6 167.3 83.4 168.6 84.2C169.9 84.9 171.2 85.7 172.5 86.4C173.8 87.1 175.2 87.7 176.5 88.4C177.9 89 179.2 89.7 180.6 90.3C181.9 91 183.3 91.7 184.6 92.2C186 92.8 187.4 93.2 188.8 93.8C190.3 94.3 191.7 94.8 193.1 95.3C194.5 95.8 195.9 96.3 197.3 96.7C198.7 97.1 200.2 97.4 201.6 97.8C203.1 98.1 204.5 98.5 206 98.8C207.4 99.2 208.8 99.6 210.3 99.9C211.7 100.2 213.2 100.4 214.7 100.6C216.1 100.8 217.6 101 219 101.2C220.5 101.5 222 101.7 223.4 101.9C224.9 102.1 225.9 102.2 227.8 102.4C229.7 102.7 232.7 103.6 234.7 103.4C236.7 103.2 238.6 102 239.8 101.1C241 100.2 241.7 98.6 242 98.1"/>
<path d="M136.2 55.6C136.8 56.7 138.6 60.5 139.6 62.2C140.6 64 141.4 64.8 142.3 66.1C143.2 67.3 143.9 68.7 145 69.9C146 71 147.2 72 148.3 73.1C149.4 74.1 150.6 75.2 151.7 76.3C152.9 77.3 154.1 78.4 155.2 79.4C156.4 80.5 157.5 81.6 158.7 82.6C159.9 83.5 161.1 84.4 162.4 85.3C163.6 86.2 164.8 87.1 166 88C167.2 88.9 168.5 89.8 169.7 90.6C171 91.4 172.3 92.2 173.6 93C174.9 93.8 176.2 94.6 177.5 95.4C178.8 96.1 180.2 96.9 181.5 97.5C182.9 98.2 184.3 98.7 185.7 99.3C187.1 99.9 188.5 100.5 189.9 101.1C191.3 101.6 192.7 102.2 194.1 102.7C195.6 103.1 197.1 103.5 198.5 103.9C200 104.3 201.5 104.6 202.9 105C204.4 105.3 205.9 105.7 207.4 106C208.8 106.3 210.3 106.5 211.8 106.7C213.3 106.9 214.8 107.1 216.3 107.2C217.8 107.4 219.3 107.6 220.9 107.7C222.4 107.9 223.9 108 225.4 108.1C226.9 108.2 228.6 108.2 229.9 108.3C231.2 108.3 231.8 108.8 233.3 108.4C234.7 108.1 237.1 107 238.4 106.1C239.7 105.3 240.5 103.6 240.9 103.1"/>
<path d="M136.1 55.8C136.6 56.9 138.4 60.6 139.5 62.3C140.5 64.1 141.3 64.9 142.2 66.1C143.1 67.4 143.9 68.8 144.9 69.9C145.9 71.1 147.1 72.1 148.2 73.1C149.4 74.2 150.5 75.3 151.7 76.4C152.9 77.5 154 78.6 155.2 79.7C156.4 80.8 157.5 81.9 158.7 82.9C159.9 84 161.1 84.9 162.4 85.8C163.6 86.8 164.8 87.7 166 88.6C167.2 89.6 168.5 90.5 169.7 91.4C171 92.2 172.3 93 173.6 93.9C174.9 94.7 176.2 95.5 177.5 96.3C178.8 97.1 180.2 97.9 181.5 98.6C182.9 99.3 184.3 99.9 185.7 100.5C187.1 101.1 188.5 101.8 189.9 102.4C191.3 103 192.7 103.6 194.1 104.1C195.6 104.6 197.1 105 198.5 105.4C200 105.8 201.5 106.2 202.9 106.6C204.4 107 205.9 107.4 207.4 107.8C208.8 108.1 210.3 108.3 211.8 108.6C213.3 108.8 214.8 109 216.3 109.2C217.8 109.4 219.3 109.6 220.9 109.8C222.4 110 223.4 110.1 225.4 110.3C227.3 110.5 230.5 111.2 232.5 110.9C234.6 110.6 236.4 109.5 237.6 108.6C238.9 107.8 239.7 106.1 240.1 105.6"/>
<path d="M136 55.9C136.5 57 138.3 60.7 139.3 62.4C140.3 64.2 141.1 65 142.1 66.2C143 67.5 143.8 68.9 144.8 70C145.8 71.2 147 72.1 148.2 73.2C149.3 74.3 150.5 75.4 151.6 76.5C152.8 77.7 154 78.8 155.2 80C156.4 81.1 157.5 82.3 158.7 83.3C159.9 84.4 161.1 85.3 162.4 86.3C163.6 87.3 164.8 88.3 166 89.3C167.2 90.2 168.5 91.2 169.7 92.1C171 93 172.3 93.8 173.6 94.7C174.9 95.6 176.2 96.5 177.5 97.3C178.8 98.1 180.2 98.9 181.5 99.7C182.9 100.4 184.3 101 185.7 101.7C187.1 102.4 188.5 103.1 189.9 103.7C191.3 104.3 192.7 105 194.1 105.5C195.6 106 197.1 106.5 198.5 106.9C200 107.4 201.5 107.8 202.9 108.2C204.4 108.7 205.9 109.1 207.4 109.5C208.8 109.9 210.3 110.1 211.8 110.4C213.3 110.7 214.8 110.9 216.3 111.2C217.8 111.4 219.3 111.7 220.9 111.9C222.4 112.1 223.5 112.2 225.4 112.4C227.2 112.7 229.9 113.6 231.8 113.4C233.7 113.2 235.6 112 236.9 111.1C238.2 110.3 239 108.6 239.4 108.1"/>
<path d="M135.7 56.2C136.3 57.3 138 60.9 139.1 62.7C140.1 64.4 141 65.3 141.9 66.6C142.8 67.9 143.7 69.3 144.6 70.7C145.5 72 146.5 73.2 147.5 74.5C148.5 75.7 149.5 77 150.5 78.2C151.5 79.5 152.5 80.8 153.5 82.1C154.5 83.4 155.5 84.7 156.6 85.9C157.6 87.2 158.7 88.3 159.8 89.4C160.9 90.6 161.9 91.8 163 92.9C164.1 94 165.2 95.1 166.4 96.2C167.6 97.2 168.8 98.2 170 99.2C171.2 100.2 172.4 101.3 173.6 102.2C174.9 103.2 176.3 104 177.6 104.8C179 105.7 180.3 106.5 181.7 107.2C183.1 108 184.4 108.8 185.9 109.5C187.3 110.2 188.7 110.8 190.2 111.4C191.6 112 193.1 112.7 194.5 113.2C196 113.7 197.6 114.1 199.1 114.5C200.6 114.9 202.1 115.3 203.6 115.7C205.2 116 206.7 116.4 208.3 116.6C209.8 116.9 211.4 117 212.9 117.2C214.5 117.4 216 117.6 217.6 117.8C219.2 117.9 220.7 118 222.3 118.1C223.8 118.2 225.6 118.3 227 118.3C228.3 118.4 228.9 118.8 230.3 118.5C231.7 118.1 234.2 117.1 235.4 116.2C236.7 115.4 237.5 113.7 237.9 113.3"/>
<path d="M135.6 56.3C136.1 57.4 137.9 61 138.9 62.8C140 64.5 140.9 65.4 141.8 66.7C142.7 68 143.6 69.4 144.5 70.7C145.4 72 146.5 73.3 147.4 74.5C148.4 75.8 149.4 77 150.5 78.3C151.5 79.6 152.5 80.9 153.5 82.3C154.5 83.6 155.5 85 156.6 86.2C157.6 87.5 158.7 88.6 159.8 89.8C160.9 91 161.9 92.2 163 93.4C164.1 94.5 165.2 95.7 166.4 96.8C167.6 97.9 168.8 98.9 170 99.9C171.2 101 172.4 102.1 173.6 103.1C174.9 104.1 176.3 104.9 177.6 105.8C179 106.7 180.3 107.5 181.7 108.3C183.1 109.1 184.4 109.9 185.9 110.7C187.3 111.4 188.7 112.1 190.2 112.7C191.6 113.4 193.1 114.1 194.5 114.6C196 115.2 197.6 115.6 199.1 116C200.6 116.5 202.1 117 203.6 117.4C205.2 117.8 206.7 118.1 208.3 118.4C209.8 118.7 211.4 118.9 212.9 119.1C214.5 119.4 216 119.6 217.6 119.8C219.2 120 220.3 120.1 222.3 120.3C224.3 120.5 227.4 121.2 229.4 121C231.5 120.7 233.4 119.6 234.7 118.7C235.9 117.9 236.7 116.2 237.2 115.8"/>
<path d="M135.4 56.5C136 57.5 137.8 61.2 138.8 62.9C139.8 64.6 140.7 65.5 141.7 66.8C142.6 68.1 143.5 69.5 144.4 70.8C145.4 72.1 146.4 73.3 147.4 74.6C148.4 75.8 149.4 77 150.4 78.3C151.4 79.6 152.5 81.1 153.5 82.4C154.5 83.8 155.5 85.2 156.6 86.5C157.6 87.8 158.7 89 159.8 90.2C160.9 91.4 161.9 92.7 163 93.9C164.1 95.1 165.2 96.3 166.4 97.4C167.6 98.5 168.8 99.6 170 100.7C171.2 101.8 172.4 102.9 173.6 103.9C174.9 105 176.3 105.8 177.6 106.8C179 107.7 180.3 108.6 181.7 109.4C183.1 110.3 184.4 111.1 185.9 111.9C187.3 112.7 188.7 113.3 190.2 114C191.6 114.7 193.1 115.5 194.5 116.1C196 116.7 197.6 117.1 199.1 117.6C200.6 118.1 202.1 118.6 203.6 119C205.2 119.5 206.7 119.9 208.3 120.2C209.8 120.6 211.4 120.8 212.9 121.1C214.5 121.3 216 121.6 217.6 121.8C219.2 122.1 220.4 122.2 222.3 122.4C224.1 122.7 226.7 123.7 228.6 123.5C230.5 123.3 232.5 122.1 233.8 121.2C235.1 120.4 236 118.7 236.4 118.3"/>
<path d="M135.2 56.8C135.8 57.8 137.5 61.3 138.6 63.1C139.6 64.8 140.5 65.8 141.5 67.2C142.4 68.7 143.2 70.1 144.1 71.6C144.9 73 145.8 74.5 146.7 75.9C147.5 77.4 148.4 78.8 149.3 80.3C150.1 81.7 151 83.1 151.9 84.6C152.8 86 153.7 87.5 154.6 88.8C155.5 90.2 156.5 91.5 157.4 92.8C158.4 94.1 159.3 95.5 160.3 96.8C161.2 98.1 162.2 99.5 163.3 100.7C164.4 102 165.5 103.2 166.6 104.4C167.7 105.7 168.8 106.9 170 108.1C171.1 109.2 172.4 110.2 173.7 111.3C175 112.3 176.3 113.3 177.6 114.3C178.9 115.3 180.3 116.2 181.6 117.1C183 118 184.5 118.7 186 119.5C187.4 120.3 188.8 121.2 190.3 121.9C191.8 122.6 193.4 123 195 123.5C196.5 124.1 198.1 124.6 199.6 125.1C201.2 125.5 202.8 126 204.4 126.3C206 126.6 207.6 126.9 209.3 127.1C210.9 127.3 212.5 127.6 214.1 127.7C215.8 127.9 217.4 128.1 219 128.2C220.7 128.3 222.6 128.3 223.9 128.4C225.2 128.4 225.6 128.8 226.9 128.5C228.3 128.2 230.8 127.4 232 126.6C233.3 125.9 234 124.6 234.5 124.1"/>
<path d="M135.1 56.9C135.6 57.9 137.4 61.4 138.4 63.2C139.5 64.9 140.4 65.9 141.4 67.3C142.3 68.7 143.1 70.2 144 71.6C144.9 73.1 145.7 74.5 146.6 76C147.5 77.4 148.4 78.9 149.2 80.3C150.1 81.7 151 83.2 151.9 84.6C152.8 86 153.7 87.5 154.6 88.8C155.5 90.2 156.5 91.5 157.4 92.8C158.4 94.1 159.3 95.5 160.3 96.9C161.2 98.2 162.2 99.6 163.3 100.9C164.4 102.2 165.5 103.5 166.6 104.8C167.7 106 168.8 107.4 170 108.5C171.1 109.7 172.4 110.8 173.7 111.8C175 112.9 176.3 114 177.6 115C178.9 116 180.3 117.1 181.6 118C183 118.9 184.5 119.7 186 120.5C187.4 121.4 188.8 122.4 190.3 123.1C191.8 123.8 193.4 124.3 195 124.9C196.5 125.4 198.1 126.1 199.6 126.6C201.2 127.1 202.8 127.6 204.4 128C206 128.4 207.6 128.6 209.3 128.9C210.9 129.2 212.5 129.5 214.1 129.7C215.8 129.9 217 130.1 219 130.3C221 130.5 224.2 131.2 226.2 131C228.2 130.8 229.9 129.9 231.2 129.1C232.4 128.4 233.2 127.1 233.6 126.6"/>
<path d="M135 57C135.5 58 137.3 61.6 138.3 63.3C139.4 65 140.3 66 141.3 67.4C142.2 68.8 143 70.3 143.9 71.7C144.8 73.2 145.7 74.6 146.6 76C147.4 77.5 148.3 78.9 149.2 80.3C150.1 81.7 151 83.2 151.9 84.6C152.8 86 153.7 87.5 154.6 88.8C155.5 90.2 156.5 91.5 157.4 92.8C158.4 94.2 159.3 95.5 160.3 96.9C161.2 98.3 162.2 99.8 163.3 101.1C164.4 102.5 165.5 103.8 166.6 105.1C167.7 106.4 168.8 107.8 170 109C171.1 110.2 172.4 111.3 173.7 112.4C175 113.6 176.3 114.7 177.6 115.7C178.9 116.8 180.3 117.9 181.6 118.9C183 119.8 184.5 120.7 186 121.6C187.4 122.5 188.8 123.5 190.3 124.3C191.8 125 193.4 125.6 195 126.2C196.5 126.8 198.1 127.5 199.6 128.1C201.2 128.6 202.8 129.2 204.4 129.6C206 130.1 207.6 130.4 209.3 130.8C210.9 131.1 212.5 131.4 214.1 131.7C215.8 132 217.1 132.1 219 132.4C220.9 132.7 223.7 133.6 225.6 133.5C227.5 133.4 229.3 132.4 230.5 131.6C231.7 130.9 232.4 129.6 232.8 129.1"/>
<path d="M134.7 57.3C135.2 58.4 137 61.8 138 63.5C139.1 65.3 140.1 66.5 140.9 68C141.8 69.5 142.6 71.1 143.4 72.7C144.2 74.3 145 75.9 145.8 77.4C146.5 79 147.3 80.6 148.1 82.2C148.8 83.8 149.6 85.4 150.4 86.9C151.2 88.5 152 90.1 152.8 91.6C153.6 93.2 154.4 94.6 155.3 96.1C156.1 97.6 156.9 99.1 157.8 100.5C158.7 102 159.5 103.4 160.5 104.8C161.4 106.2 162.4 107.6 163.4 109C164.4 110.3 165.4 111.7 166.5 113C167.5 114.3 168.6 115.7 169.8 116.9C170.9 118.2 172.2 119.4 173.5 120.6C174.7 121.8 175.9 123 177.2 124.1C178.6 125.2 180.1 126.1 181.5 127.1C182.9 128 184.3 129.2 185.8 130C187.3 130.8 188.9 131.4 190.5 132.1C192.1 132.8 193.7 133.6 195.3 134.2C196.9 134.8 198.6 135.2 200.3 135.7C201.9 136.1 203.6 136.6 205.3 136.9C207 137.3 208.7 137.4 210.4 137.6C212.1 137.8 213.8 138 215.5 138.2C217.3 138.3 219.2 138.3 220.7 138.4C222.2 138.5 222.9 138.8 224.3 138.5C225.7 138.3 228 137.6 229.1 137.1C230.3 136.5 230.9 135.4 231.2 135"/>
<path d="M134.6 57.4C135.1 58.5 136.9 61.9 137.9 63.6C139 65.4 140 66.5 140.9 68.1C141.8 69.6 142.5 71.2 143.3 72.8C144.1 74.3 144.9 75.9 145.7 77.5C146.5 79.1 147.3 80.6 148 82.2C148.8 83.8 149.6 85.4 150.4 86.9C151.2 88.5 152 90.1 152.8 91.6C153.6 93.2 154.4 94.6 155.3 96.1C156.1 97.6 156.9 99.1 157.8 100.5C158.7 102 159.5 103.4 160.5 104.8C161.4 106.2 162.4 107.6 163.4 109C164.4 110.3 165.4 111.7 166.5 113C167.5 114.4 168.6 115.7 169.8 117.1C170.9 118.4 172.2 119.6 173.5 120.8C174.7 122.1 175.9 123.4 177.2 124.5C178.6 125.6 180.1 126.6 181.5 127.7C182.9 128.7 184.3 129.9 185.8 130.8C187.3 131.7 188.9 132.3 190.5 133.1C192.1 133.9 193.7 134.7 195.3 135.4C196.9 136 198.6 136.6 200.3 137.1C201.9 137.6 203.6 138.2 205.3 138.6C207 139 208.7 139.2 210.4 139.5C212.1 139.7 213.8 140 215.5 140.2C217.3 140.4 219.3 140.5 220.7 140.6C222 140.8 222.4 141.2 223.7 141C225 140.9 227.4 140.1 228.5 139.6C229.7 139 230.3 137.9 230.6 137.5"/>
<path d="M134.5 57.5C135 58.6 136.8 61.9 137.8 63.7C138.9 65.5 139.9 66.6 140.8 68.1C141.7 69.6 142.4 71.2 143.2 72.8C144.1 74.4 144.9 75.9 145.7 77.5C146.5 79.1 147.2 80.7 148 82.2C148.8 83.8 149.5 85.4 150.3 87C151.1 88.5 152 90.1 152.8 91.6C153.6 93.2 154.4 94.6 155.3 96.1C156.1 97.6 156.9 99.1 157.8 100.5C158.7 102 159.5 103.4 160.5 104.8C161.4 106.2 162.4 107.6 163.4 109C164.4 110.3 165.4 111.7 166.5 113C167.5 114.4 168.6 115.8 169.8 117.2C170.9 118.5 172.2 119.8 173.5 121.1C174.7 122.4 175.9 123.8 177.2 124.9C178.6 126.1 180.1 127.2 181.5 128.3C182.9 129.4 184.3 130.6 185.8 131.6C187.3 132.6 188.9 133.3 190.5 134.1C192.1 134.9 193.7 135.8 195.3 136.6C196.9 137.3 198.6 137.9 200.3 138.5C201.9 139.1 203.6 139.8 205.3 140.2C207 140.7 208.7 141 210.4 141.3C212.1 141.6 213.4 141.9 215.5 142.2C217.7 142.6 221 143.6 223.1 143.5C225.1 143.5 226.7 142.6 227.9 142.1C229 141.5 229.6 140.4 230 140"/>
<path d="M134.1 57.9C134.7 58.9 136.4 62.2 137.5 64C138.5 65.8 139.5 67.1 140.4 68.8C141.3 70.4 141.9 72.1 142.6 73.8C143.4 75.5 144.1 77.2 144.8 78.9C145.5 80.7 146.2 82.4 146.8 84.1C147.5 85.8 148.1 87.6 148.8 89.3C149.5 91 150.3 92.7 151 94.4C151.7 96.1 152.4 97.7 153.1 99.4C153.8 101 154.6 102.6 155.3 104.3C156.1 105.9 156.8 107.5 157.6 109.1C158.4 110.7 159.2 112.3 160.1 113.8C161 115.4 162 116.9 163 118.4C163.9 119.9 164.8 121.5 165.8 122.9C166.9 124.4 168.1 125.7 169.3 127C170.5 128.4 171.5 129.8 172.8 131C174.1 132.3 175.6 133.4 177 134.5C178.4 135.7 179.7 137 181.3 138C182.8 139 184.5 139.7 186.1 140.6C187.7 141.4 189.3 142.4 191 143.1C192.6 143.9 194.4 144.4 196.1 144.9C197.9 145.5 199.6 146.2 201.3 146.6C203.1 147.1 204.9 147.1 206.7 147.4C208.5 147.6 210.3 147.9 212.1 148.1C213.9 148.3 215.8 148.3 217.5 148.4C219.1 148.5 220.3 148.7 221.8 148.6C223.3 148.4 225.4 147.9 226.5 147.5C227.6 147 228.2 146.2 228.5 145.9"/>
<path d="M134.1 58C134.6 59 136.4 62.3 137.4 64.1C138.5 65.9 139.5 67.2 140.3 68.8C141.2 70.4 141.9 72.2 142.6 73.9C143.3 75.6 144.1 77.3 144.8 79C145.5 80.7 146.1 82.4 146.8 84.1C147.5 85.9 148.1 87.6 148.8 89.3C149.5 91 150.3 92.7 151 94.4C151.7 96.1 152.4 97.7 153.1 99.4C153.8 101 154.6 102.6 155.3 104.3C156.1 105.9 156.8 107.5 157.6 109.1C158.4 110.7 159.2 112.3 160.1 113.8C161 115.4 162 116.9 163 118.4C163.9 119.9 164.8 121.5 165.8 122.9C166.9 124.4 168.1 125.7 169.3 127C170.5 128.4 171.5 129.8 172.8 131C174.1 132.3 175.6 133.5 177 134.7C178.4 135.9 179.7 137.2 181.3 138.3C182.8 139.4 184.5 140.2 186.1 141.1C187.7 142 189.3 143.1 191 143.9C192.6 144.7 194.4 145.3 196.1 146C197.9 146.7 199.6 147.5 201.3 148C203.1 148.5 204.9 148.7 206.7 149C208.5 149.4 210.3 149.8 212.1 150C213.9 150.3 215.9 150.4 217.5 150.6C219 150.7 219.7 151.2 221.1 151.1C222.6 151 224.8 150.4 225.9 150C227 149.5 227.6 148.7 227.9 148.4"/>
<path d="M134 58.1C134.6 59.1 136.3 62.3 137.3 64.1C138.4 65.9 139.4 67.2 140.3 68.9C141.2 70.5 141.8 72.2 142.5 73.9C143.3 75.6 144.1 77.3 144.8 79C145.5 80.7 146.1 82.4 146.8 84.2C147.5 85.9 148.1 87.6 148.8 89.3C149.5 91 150.3 92.7 151 94.4C151.7 96.1 152.4 97.7 153.1 99.4C153.8 101 154.6 102.6 155.3 104.3C156.1 105.9 156.8 107.5 157.6 109.1C158.4 110.7 159.2 112.3 160.1 113.8C161 115.4 162 116.9 163 118.4C163.9 119.9 164.8 121.5 165.8 122.9C166.9 124.4 168.1 125.7 169.3 127C170.5 128.4 171.5 129.7 172.8 131C174.1 132.3 175.6 133.5 177 134.8C178.4 136.1 179.7 137.5 181.3 138.6C182.8 139.8 184.5 140.6 186.1 141.6C187.7 142.6 189.3 143.8 191 144.7C192.6 145.6 194.4 146.3 196.1 147.1C197.9 147.8 199.6 148.7 201.3 149.3C203.1 149.9 204.9 150.2 206.7 150.7C208.5 151.1 209.8 151.4 212.1 151.9C214.4 152.4 218.3 153.5 220.5 153.6C222.6 153.7 224.1 152.9 225.2 152.5C226.3 152 226.9 151.2 227.2 150.9"/>
<path d="M133.6 58.5C134.2 59.5 135.9 62.6 136.9 64.5C138 66.3 138.9 67.8 139.8 69.6C140.6 71.3 141.2 73.2 142 75C142.7 76.8 143.4 78.6 144.1 80.4C144.8 82.3 145.4 84.1 146 85.9C146.6 87.8 147.3 89.6 147.9 91.5C148.5 93.3 149.2 95.1 149.8 96.9C150.4 98.8 151 100.5 151.6 102.3C152.2 104.1 152.8 105.9 153.5 107.6C154.1 109.4 154.7 111.2 155.3 112.9C156 114.7 156.7 116.4 157.4 118.2C158.2 119.9 159 121.5 159.8 123.2C160.6 124.9 161.3 126.6 162.3 128.3C163.2 129.9 164.4 131.4 165.5 132.9C166.6 134.4 167.6 136 168.9 137.4C170.1 138.8 171.5 140.1 172.8 141.4C174.2 142.7 175.6 144 177.1 145.1C178.6 146.3 180.3 147.1 181.9 148.1C183.5 149.1 185.1 150.2 186.8 151.1C188.5 151.9 190.3 152.7 192.1 153.4C193.9 154.1 195.7 154.9 197.5 155.4C199.3 155.9 201.2 156.2 203.1 156.6C205 156.9 206.9 157.3 208.7 157.6C210.6 157.8 212.7 158 214.4 158.2C216.1 158.4 217.5 158.7 219 158.6C220.6 158.6 222.6 158.2 223.7 157.9C224.8 157.6 225.3 157 225.6 156.8"/>
<path d="M133.5 58.6C134.1 59.6 135.9 62.7 136.9 64.5C137.9 66.4 138.9 67.9 139.7 69.6C140.5 71.4 141.2 73.2 141.9 75C142.6 76.8 143.4 78.6 144.1 80.5C144.7 82.3 145.4 84.1 146 86C146.6 87.8 147.2 89.6 147.9 91.5C148.5 93.3 149.2 95.1 149.8 96.9C150.4 98.8 151 100.5 151.6 102.3C152.2 104.1 152.8 105.9 153.5 107.6C154.1 109.4 154.7 111.2 155.3 112.9C156 114.7 156.7 116.4 157.4 118.2C158.2 119.9 159 121.5 159.8 123.2C160.6 124.9 161.3 126.6 162.3 128.3C163.2 129.9 164.4 131.4 165.5 132.9C166.6 134.4 167.6 136 168.9 137.4C170.1 138.8 171.5 140.1 172.8 141.4C174.2 142.7 175.6 144 177.1 145.1C178.6 146.3 180.3 147.1 181.9 148.2C183.5 149.2 185.1 150.4 186.8 151.3C188.5 152.3 190.3 153.1 192.1 154C193.9 154.8 195.7 155.7 197.5 156.3C199.3 157 201.2 157.4 203.1 157.9C205 158.4 206.9 158.9 208.7 159.3C210.6 159.7 212.8 159.9 214.4 160.2C216 160.6 216.9 161.1 218.4 161.1C219.8 161.1 221.9 160.7 223 160.4C224.1 160.1 224.6 159.5 224.9 159.3"/>
<path d="M133.5 58.6C134 59.6 135.8 62.7 136.8 64.6C137.9 66.4 138.8 67.9 139.7 69.7C140.5 71.4 141.2 73.3 141.9 75.1C142.6 76.9 143.4 78.7 144 80.5C144.7 82.3 145.3 84.1 146 86C146.6 87.8 147.2 89.6 147.9 91.5C148.5 93.3 149.2 95.1 149.8 96.9C150.4 98.8 151 100.5 151.6 102.3C152.2 104.1 152.8 105.9 153.5 107.6C154.1 109.4 154.7 111.2 155.3 112.9C156 114.7 156.7 116.4 157.4 118.2C158.2 119.9 159 121.5 159.8 123.2C160.6 124.9 161.3 126.6 162.3 128.3C163.2 129.9 164.4 131.4 165.5 132.9C166.6 134.4 167.6 136 168.9 137.4C170.1 138.8 171.5 140.1 172.8 141.4C174.2 142.7 175.6 144 177.1 145.1C178.6 146.3 180.3 147.2 181.9 148.2C183.5 149.3 185.1 150.6 186.8 151.6C188.5 152.7 190.3 153.6 192.1 154.5C193.9 155.5 195.7 156.5 197.5 157.3C199.3 158 201.2 158.6 203.1 159.2C205 159.8 206.9 160.5 208.7 161C210.6 161.5 212.9 161.9 214.4 162.3C215.9 162.8 216.3 163.5 217.7 163.6C219 163.7 221.2 163.2 222.3 162.9C223.4 162.6 223.9 162 224.2 161.8"/>
<path d="M133 59.1C133.6 60.1 135.4 63.1 136.4 65C137.4 66.8 138.2 68.6 139.1 70.5C139.9 72.3 140.5 74.3 141.3 76.2C142 78.1 142.7 80 143.4 81.9C144.1 83.8 144.7 85.8 145.3 87.7C145.9 89.7 146.6 91.6 147.2 93.5C147.8 95.5 148.4 97.4 148.9 99.4C149.4 101.3 149.8 103.2 150.3 105.1C150.8 107.1 151.3 109 151.8 110.9C152.3 112.8 152.7 114.7 153.3 116.6C153.8 118.5 154.3 120.4 154.9 122.3C155.5 124.1 156 126 156.7 127.8C157.4 129.7 158 131.5 158.9 133.3C159.7 135.1 160.8 136.8 161.8 138.5C162.8 140.1 163.9 141.8 165.1 143.4C166.3 145 167.5 146.5 168.8 148C170.1 149.4 171.5 150.9 173 152.2C174.5 153.4 176.1 154.6 177.7 155.7C179.3 156.8 181 157.9 182.8 158.9C184.5 159.9 186.2 160.7 188.1 161.5C189.9 162.4 191.8 163.1 193.7 163.7C195.7 164.4 197.6 164.9 199.6 165.4C201.5 165.9 203.5 166.3 205.5 166.8C207.5 167.2 209.4 167.5 211.4 167.8C213.4 168.1 215.6 168.3 217.4 168.4C219.2 168.6 221.4 168.8 222.3 168.8"/>
<path d="M133 59.1C133.6 60.1 135.3 63.1 136.4 65C137.4 66.9 138.2 68.6 139 70.5C139.8 72.3 140.5 74.3 141.2 76.2C142 78.1 142.7 80 143.4 81.9C144.1 83.8 144.7 85.8 145.3 87.7C145.9 89.7 146.6 91.6 147.2 93.5C147.8 95.5 148.4 97.4 148.9 99.4C149.4 101.3 149.8 103.2 150.3 105.1C150.8 107.1 151.3 109 151.8 110.9C152.3 112.8 152.7 114.7 153.3 116.6C153.8 118.5 154.3 120.4 154.9 122.3C155.5 124.1 156 126 156.7 127.8C157.4 129.7 158 131.5 158.9 133.3C159.7 135.1 160.8 136.8 161.8 138.5C162.8 140.1 163.9 141.8 165.1 143.4C166.3 145 167.5 146.5 168.8 148C170.1 149.4 171.5 150.9 173 152.2C174.5 153.4 176.1 154.6 177.7 155.7C179.3 156.8 181 157.9 182.8 158.9C184.5 159.9 186.2 160.8 188.1 161.6C189.9 162.5 191.8 163.4 193.7 164.1C195.7 164.9 197.6 165.6 199.6 166.2C201.5 166.9 203.5 167.6 205.5 168.2C207.5 168.7 209.4 169.3 211.4 169.7C213.4 170.2 215.7 170.5 217.4 170.8C219.1 171 220.9 171.2 221.6 171.3"/>
<path d="M133 59.2C133.5 60.1 135.3 63.1 136.3 65C137.3 66.9 138.2 68.6 139 70.5C139.8 72.4 140.5 74.3 141.2 76.2C142 78.1 142.7 80 143.4 81.9C144 83.9 144.7 85.8 145.3 87.7C145.9 89.7 146.6 91.6 147.1 93.6C147.7 95.5 148.4 97.4 148.9 99.4C149.4 101.3 149.8 103.2 150.3 105.1C150.8 107.1 151.3 109 151.8 110.9C152.3 112.8 152.7 114.7 153.3 116.6C153.8 118.5 154.3 120.4 154.9 122.3C155.5 124.1 156 126 156.7 127.8C157.4 129.7 158 131.5 158.9 133.3C159.7 135.1 160.8 136.8 161.8 138.5C162.8 140.1 163.9 141.8 165.1 143.4C166.3 145 167.5 146.5 168.8 148C170.1 149.4 171.5 150.9 173 152.2C174.5 153.4 176.1 154.6 177.7 155.7C179.3 156.8 181 157.9 182.8 158.9C184.5 159.9 186.2 160.8 188.1 161.7C189.9 162.7 191.8 163.6 193.7 164.5C195.7 165.4 197.6 166.3 199.6 167.1C201.5 167.9 203.5 168.8 205.5 169.6C207.5 170.3 209.4 171.1 211.4 171.7C213.4 172.2 215.8 172.7 217.4 173.1C219 173.4 220.4 173.7 221 173.8"/>
<path d="M132.5 59.7C133 60.7 134.8 63.5 135.8 65.4C136.8 67.4 137.5 69.3 138.3 71.3C139.1 73.3 139.8 75.3 140.6 77.3C141.3 79.3 142 81.4 142.7 83.4C143.4 85.4 144 87.5 144.6 89.5C145.2 91.5 145.9 93.6 146.4 95.6C147 97.7 147.5 99.7 147.9 101.8C148.4 103.9 148.6 105.9 149 108C149.4 110 149.7 112.1 150.1 114.1C150.5 116.2 150.8 118.2 151.2 120.3C151.6 122.3 152 124.3 152.4 126.4C152.8 128.4 153.1 130.4 153.6 132.4C154.1 134.4 154.7 136.4 155.5 138.4C156.2 140.3 157.1 142.2 158.1 144C159.1 145.9 160.2 147.6 161.3 149.4C162.4 151.2 163.5 152.9 164.8 154.6C166 156.2 167.5 157.7 169 159.2C170.4 160.7 171.9 162.1 173.5 163.4C175.2 164.7 176.9 165.9 178.7 167C180.4 168.1 182.2 169.2 184.1 170.1C185.9 171 188 171.5 190 172.2C192 172.9 194 173.5 196 174.1C198.1 174.6 200.1 175.2 202.2 175.7C204.3 176.3 206.4 176.9 208.4 177.3C210.5 177.7 212.8 178 214.7 178.3C216.7 178.5 219.2 178.8 220 178.9"/>
<path d="M132.5 59.7C133 60.7 134.8 63.5 135.8 65.5C136.8 67.4 137.5 69.4 138.3 71.3C139.1 73.3 139.8 75.3 140.6 77.3C141.3 79.4 142 81.4 142.7 83.4C143.4 85.4 144 87.5 144.6 89.5C145.2 91.5 145.9 93.6 146.4 95.6C147 97.7 147.5 99.8 147.9 101.8C148.4 103.9 148.6 105.9 149 108C149.4 110 149.7 112.1 150.1 114.1C150.5 116.2 150.8 118.2 151.2 120.3C151.6 122.3 152 124.3 152.4 126.4C152.8 128.4 153.1 130.4 153.6 132.4C154.1 134.4 154.7 136.4 155.5 138.4C156.2 140.3 157.1 142.2 158.1 144C159.1 145.9 160.2 147.6 161.3 149.4C162.4 151.2 163.5 152.9 164.8 154.6C166 156.2 167.5 157.7 169 159.2C170.4 160.7 171.9 162.1 173.5 163.4C175.2 164.7 176.9 165.9 178.7 167C180.4 168.1 182.2 169.2 184.1 170.1C185.9 171 188 171.5 190 172.2C192 172.9 194 173.6 196 174.3C198.1 175.1 200.1 175.9 202.2 176.6C204.3 177.4 206.4 178.3 208.4 178.9C210.5 179.6 212.9 180.1 214.7 180.5C216.6 180.9 218.8 181.2 219.6 181.4"/>
<path d="M132.5 59.7C133 60.7 134.8 63.5 135.8 65.5C136.8 67.4 137.5 69.4 138.3 71.3C139.1 73.3 139.8 75.3 140.6 77.3C141.3 79.4 142 81.4 142.7 83.4C143.4 85.4 144 87.5 144.6 89.5C145.2 91.5 145.9 93.6 146.4 95.6C147 97.7 147.5 99.8 147.9 101.8C148.4 103.9 148.6 105.9 149 108C149.4 110 149.7 112.1 150.1 114.1C150.5 116.2 150.8 118.2 151.2 120.3C151.6 122.3 152 124.3 152.4 126.4C152.8 128.4 153.1 130.4 153.6 132.4C154.1 134.4 154.7 136.4 155.5 138.4C156.2 140.3 157.1 142.2 158.1 144C159.1 145.9 160.2 147.6 161.3 149.4C162.4 151.2 163.5 152.9 164.8 154.6C166 156.2 167.5 157.7 169 159.2C170.4 160.7 171.9 162.1 173.5 163.4C175.2 164.7 176.9 165.9 178.7 167C180.4 168.1 182.2 169.2 184.1 170.1C185.9 171 188 171.5 190 172.2C192 173 194 173.7 196 174.6C198.1 175.5 200.1 176.5 202.2 177.5C204.3 178.5 206.4 179.7 208.4 180.6C210.5 181.4 212.9 182.2 214.7 182.8C216.5 183.3 218.4 183.7 219.1 183.9"/>
<path d="M180.1 178.8C181.1 179.2 184.1 180.4 186.2 181.1C188.3 181.8 190.4 182.5 192.5 183.1C194.6 183.7 196.8 184.3 198.9 184.9C201.1 185.5 203.3 186.3 205.5 186.8C207.6 187.4 209.9 187.7 212 188.1C214.1 188.4 217.1 188.8 218.1 188.9"/>
<path d="M180.1 178.8C181.1 179.2 184.1 180.3 186.2 181.1C188.3 181.8 190.4 182.4 192.5 183.1C194.6 183.9 196.8 184.6 198.9 185.4C201.1 186.3 203.3 187.4 205.5 188.2C207.6 189 210 189.7 212 190.2C214.1 190.8 216.8 191.2 217.8 191.4"/>
<path d="M180.1 178.8C181.1 179.2 184.1 180.3 186.2 181.1C188.3 181.8 190.4 182.3 192.5 183.2C194.6 184 196.8 184.9 198.9 186C201.1 187 203.3 188.5 205.5 189.6C207.6 190.6 210 191.7 212 192.4C214.1 193.1 216.6 193.7 217.6 193.9"/>
<path d="M176.7 188.9C177.8 189.3 181.1 190.7 183.3 191.5C185.5 192.2 187.8 192.9 190.1 193.5C192.4 194.1 194.8 194.7 197.1 195.3C199.5 195.9 201.8 196.6 204.2 197.1C206.5 197.6 209.1 198.1 211.3 198.4C213.5 198.7 216.3 198.9 217.3 199"/>
<path d="M176.7 188.9C177.8 189.3 181.1 190.7 183.3 191.5C185.5 192.2 187.8 192.8 190.1 193.5C192.4 194.2 194.8 194.9 197.1 195.8C199.5 196.6 201.8 197.7 204.2 198.5C206.5 199.3 209.1 200.1 211.3 200.6C213.5 201.1 216.5 201.3 217.5 201.5"/>
<path d="M176.7 188.9C177.8 189.3 181.1 190.7 183.3 191.5C185.5 192.2 187.8 192.7 190.1 193.5C192.4 194.3 194.8 195.2 197.1 196.2C199.5 197.3 201.8 198.8 204.2 199.9C206.5 200.9 209 202.1 211.3 202.8C213.5 203.4 216.6 203.8 217.7 204"/>
<path d="M180.4 201.9C181.6 202.2 185.3 203.3 187.8 203.9C190.3 204.5 192.8 204.9 195.3 205.5C197.8 206 200.4 206.7 202.9 207.2C205.4 207.7 207.9 208.1 210.5 208.4C213.2 208.7 217.3 208.9 218.7 209"/>
<path d="M180.4 201.9C181.6 202.2 185.3 203.3 187.8 203.9C190.3 204.6 192.8 205 195.3 205.7C197.8 206.5 200.4 207.5 202.9 208.3C205.4 209.1 207.8 210 210.5 210.5C213.3 211 217.9 211.3 219.4 211.5"/>
<path d="M180.4 201.9C181.6 202.2 185.3 203.2 187.8 203.9C190.3 204.6 192.8 205 195.3 206C197.8 206.9 200.4 208.3 202.9 209.4C205.4 210.5 207.7 211.8 210.5 212.6C213.4 213.3 218.5 213.8 220.1 214"/>
</g>
<path d="M253.9 16C253.4 20 251.9 31.7 250.8 40C249.8 48.3 248.6 58.7 247.6 66C246.6 73.3 246.1 78 245 84C243.9 90 242.6 96.3 241.2 102C239.8 107.7 237.9 113.3 236.5 118C235.1 122.7 234 124.7 232.5 130C231 135.3 229.3 143 227.5 150C225.7 157 223 165.2 221.4 171.9C219.8 178.6 218.6 185.7 217.9 190C217.2 194.3 217.2 195.3 217.2 198C217.2 200.7 217.4 203.4 217.9 206C218.4 208.6 219 211 219.9 213.5C220.8 216 222.9 219.8 223.5 221" fill="none" stroke="#17872a" stroke-width="1.65"/>
<path d="M80.5 39.6C81.8 39.3 85.1 38.1 88 37.6C90.9 37.1 94 36.3 97.8 36.4C101.6 36.5 107.3 37.4 111 38.4C114.7 39.4 117.3 40.7 120.1 42.3C122.9 43.9 126 46.1 128 48.2C130 50.3 130.5 52.1 132.2 55C133.9 57.9 136 61.2 138.1 65.5C140.2 69.8 142.8 75.5 144.9 80.5C147 85.5 148.4 90.6 150.5 95.5C152.6 100.4 155.1 106 157.2 110C159.3 114 161 116.4 163.1 119.2C165.2 122 167.5 124.7 169.7 127.1C171.9 129.5 173.9 131.5 176.3 133.6C178.7 135.7 181.5 137.9 184.1 139.8C186.7 141.7 189.1 143.5 192 145C194.9 146.5 198.2 147.8 201.8 148.6C205.4 149.4 210.1 149.9 213.6 149.9C217.1 149.9 220.4 149.2 222.8 148.6C225.2 147.9 226.9 146.9 228 146C229.1 145.1 229.3 143.5 229.6 143" fill="none" stroke="#7a2fc4" stroke-width="1.45"/>
<path d="M83.4 37.1C84.3 36.9 87 36 89 35.7C91 35.4 93 35.1 95.2 35.1C97.4 35.1 99.8 35.5 102 35.9C104.2 36.3 105.7 36.6 108.3 37.7C110.9 38.8 115 40.8 117.5 42.3C120 43.8 121.3 45 123.4 46.9C125.5 48.8 127.7 50.8 130 53.5C132.3 56.2 135.1 59.4 137.5 62.9C139.9 66.4 142.4 71.1 144.7 74.7C147 78.3 148.8 81 151.3 84.5C153.8 88 157.2 92.6 159.7 95.5C162.2 98.4 163.9 99.9 166.3 102.1C168.7 104.3 171.3 106.5 174.1 108.6C176.9 110.7 180.2 112.8 183.3 114.5C186.4 116.2 189.4 117.3 192.5 118.5C195.6 119.7 197.9 120.6 201.6 121.4C205.3 122.2 210.3 123.2 214.7 123.4C219.1 123.6 224.5 122.9 227.8 122.3C231.1 121.7 233.3 120.1 234.4 119.7" fill="none" stroke="#1f8f1f" stroke-width="1.7" stroke-dasharray="7 3.2"/>
<path d="M78.1 39.7C79.1 39.4 81.8 38.4 84 38C86.2 37.6 89.1 37.1 91.3 37.1C93.5 37.1 95 37.3 97 37.7C99 38.1 100.8 38.5 103.1 39.4C105.4 40.3 108.6 41.8 111 43C113.4 44.2 115.5 45.5 117.5 46.9C119.5 48.3 120.9 49.8 122.8 51.5C124.7 53.2 126.9 55 129 57C131.1 59 133.3 61.3 135.5 63.5C137.7 65.7 139.6 67.8 142 70C144.4 72.2 147.5 74.8 149.9 76.7C152.3 78.6 154.1 79.5 156.5 81.3C158.9 83 161.7 85.4 164.4 87.2C167.1 89 169.4 90.5 172.8 92.2C176.2 93.9 180.4 96 184.6 97.5C188.8 99 193.6 100.6 197.8 101.4C202 102.2 205.5 102.3 210 102.5C214.5 102.7 220.5 102.6 225 102.3C229.5 102 235 100.9 237 100.6" fill="none" stroke="#1414ff" stroke-width="1.7" stroke-dasharray="10 3 1.4 3"/>
<path d="M70.9 31.2C71.8 30.9 74.1 30.1 76 29.7C77.9 29.2 79.5 28.9 82.1 28.5C84.6 28.1 88.2 27.4 91.3 27.5C94.3 27.6 97.4 28.1 100.4 28.9C103.5 29.7 106.8 31 109.6 32.5C112.4 34 115.1 35.8 117.5 37.7C119.9 39.6 122.2 41.8 124 44C125.8 46.2 127 48.5 128.5 51C130 53.5 131.4 56 132.9 58.9C134.4 61.8 136.2 64.6 137.5 68.1C138.8 71.6 139.6 74.2 140.9 79.9C142.2 85.6 144.1 95.8 145.3 102.1C146.5 108.4 147.2 113.9 147.9 117.8C148.6 121.7 148.3 119.8 149.2 125.7C150 131.6 151.6 144.5 153 153.3C154.4 162.1 155.9 171.8 157.5 178.4C159.1 185 159.8 188 162.4 193C165 198 169.9 204.8 172.8 208.6C175.7 212.3 177.1 213.1 180 215.5C182.9 217.9 185.7 220.3 190.3 222.8C194.9 225.3 202.3 228.5 207.8 230.5C213.3 232.5 220.6 234.2 223.2 234.9" fill="none" stroke="#1414ff" stroke-width="1.35" stroke-dasharray="6.8 3.2"/>
<path d="M187.9 112.6C188 112.4 187.9 112 188 111.7C188.2 111.4 188.4 111 188.8 110.6C189.2 110.2 189.7 109.8 190.2 109.3C190.8 108.9 191.5 108.4 192.3 107.9C193.1 107.4 194.1 106.8 195.1 106.2C196.1 105.6 197.2 105 198.4 104.4C199.6 103.8 200.9 103.1 202.3 102.5C203.6 101.8 205.1 101.1 206.6 100.4C208.1 99.7 209.8 98.9 211.4 98.2C213.1 97.4 214.8 96.7 216.6 95.9C218.4 95.2 220.2 94.4 222.1 93.6C224 92.9 225.9 92.1 227.9 91.3C229.8 90.6 231.8 89.8 233.8 89.1C235.8 88.3 237.9 87.6 239.9 86.9C241.9 86.2 243.9 85.5 246 84.8C248 84.2 250 83.5 252 82.9C254 82.3 256 81.7 258 81.1C259.9 80.6 261.9 80 263.7 79.6C265.6 79.1 267.5 78.6 269.3 78.2C271 77.8 272.8 77.4 274.4 77.1C276.1 76.7 277.7 76.4 279.2 76.2C280.7 75.9 282.2 75.7 283.5 75.5C284.9 75.3 286.1 75.1 287.3 74.9C288.4 74.8 289.5 74.7 290.5 74.6C291.4 74.5 292.3 74.5 293 74.4C293.8 74.4 294.4 74.4 294.9 74.4C295.4 74.4 295.8 74.4 296 74.4C296.3 74.4 296.4 74.4 296.5 74.4 L296.5 74.4C296.4 74.5 296.4 74.6 296.2 74.8C296 74.9 295.7 75.2 295.3 75.5C294.9 75.8 294.4 76.2 293.8 76.6C293.2 77 292.5 77.5 291.7 78.1C290.9 78.6 290 79.2 289 79.8C288 80.4 286.9 81.1 285.7 81.8C284.5 82.4 283.3 83.2 281.9 83.9C280.6 84.6 279.1 85.4 277.6 86.2C276.1 86.9 274.5 87.7 272.9 88.5C271.2 89.3 269.5 90.1 267.7 90.9C266 91.7 264.1 92.5 262.3 93.3C260.4 94.1 258.5 94.9 256.5 95.6C254.6 96.4 252.6 97.2 250.6 97.9C248.6 98.7 246.5 99.4 244.5 100.1C242.5 100.8 240.5 101.5 238.4 102.2C236.4 102.9 234.4 103.5 232.4 104.1C230.4 104.8 228.4 105.4 226.4 105.9C224.5 106.5 222.6 107.1 220.7 107.6C218.8 108.1 217 108.6 215.3 109.1C213.5 109.6 211.8 110 210.1 110.4C208.5 110.8 206.9 111.2 205.4 111.5C203.9 111.8 202.5 112.1 201.2 112.4C199.9 112.6 198.6 112.9 197.5 113C196.3 113.2 195.3 113.4 194.3 113.5C193.3 113.6 192.5 113.6 191.7 113.6C191 113.6 190.4 113.6 189.8 113.5C189.3 113.5 188.9 113.3 188.5 113.2C188.2 113 188 112.7 187.9 112.6" fill="none" stroke="#1414ff" stroke-width="1.6" stroke-linejoin="miter"/>
<path d="M187.4 135C187.4 134.9 187.3 134.4 187.4 134.1C187.6 133.8 187.8 133.4 188.2 133C188.6 132.5 189 132.1 189.6 131.6C190.2 131.2 190.9 130.6 191.7 130.1C192.5 129.6 193.4 129 194.4 128.4C195.5 127.8 196.6 127.2 197.8 126.6C199 125.9 200.3 125.3 201.6 124.6C203 123.9 204.5 123.2 206 122.5C207.5 121.7 209.2 121 210.8 120.3C212.5 119.5 214.3 118.7 216 118C217.8 117.2 219.7 116.4 221.6 115.7C223.5 114.9 225.4 114.1 227.4 113.4C229.3 112.6 231.3 111.9 233.3 111.1C235.3 110.4 237.4 109.7 239.4 109C241.5 108.3 243.5 107.6 245.5 106.9C247.6 106.3 249.6 105.6 251.6 105C253.6 104.4 255.7 103.8 257.6 103.3C259.6 102.8 261.5 102.3 263.4 101.8C265.3 101.3 267.2 100.9 269 100.5C270.8 100.1 272.5 99.8 274.2 99.4C275.9 99.1 277.5 98.9 279 98.6C280.5 98.4 282 98.2 283.4 98C284.7 97.8 286 97.7 287.2 97.5C288.3 97.4 289.4 97.3 290.4 97.3C291.3 97.2 292.2 97.2 293 97.2C293.7 97.1 294.3 97.1 294.8 97.1C295.4 97.2 295.8 97.2 296 97.2C296.3 97.2 296.4 97.3 296.4 97.3 L296.4 97.3C296.4 97.3 296.3 97.4 296.2 97.6C296 97.8 295.7 98.1 295.3 98.4C294.9 98.7 294.4 99.1 293.8 99.5C293.2 100 292.5 100.5 291.7 101C290.9 101.6 290 102.2 289 102.8C288 103.4 286.9 104.1 285.7 104.8C284.5 105.5 283.3 106.3 281.9 107C280.6 107.8 279.1 108.5 277.6 109.3C276.1 110.1 274.5 110.9 272.9 111.7C271.2 112.5 269.5 113.3 267.7 114.1C265.9 114.9 264.1 115.7 262.2 116.5C260.3 117.3 258.4 118.1 256.4 118.9C254.5 119.7 252.5 120.4 250.5 121.2C248.5 121.9 246.4 122.6 244.4 123.3C242.3 124 240.3 124.7 238.3 125.4C236.2 126 234.2 126.7 232.2 127.3C230.2 127.9 228.2 128.5 226.2 129.1C224.2 129.6 222.3 130.2 220.4 130.7C218.6 131.2 216.7 131.7 214.9 132.1C213.2 132.6 211.4 133 209.8 133.4C208.1 133.7 206.5 134.1 205 134.4C203.5 134.7 202.1 135 200.8 135.2C199.4 135.5 198.2 135.7 197 135.8C195.9 136 194.8 136.1 193.8 136.2C192.9 136.3 192 136.3 191.2 136.3C190.5 136.3 189.8 136.2 189.3 136.1C188.7 136 188.3 135.9 188 135.7C187.7 135.5 187.5 135.1 187.4 135" fill="none" stroke="#1f8f1f" stroke-width="1.6" stroke-linejoin="miter"/>
<path d="M187.9 158C187.9 157.8 187.9 157.4 188 157.1C188.1 156.8 188.4 156.4 188.7 156C189.1 155.6 189.6 155.2 190.1 154.7C190.7 154.2 191.4 153.7 192.2 153.2C193 152.7 193.9 152.1 194.8 151.5C195.8 150.9 196.9 150.3 198.1 149.7C199.3 149.1 200.5 148.4 201.9 147.7C203.2 147 204.6 146.3 206.1 145.6C207.6 144.9 209.2 144.2 210.9 143.4C212.5 142.7 214.2 141.9 216 141.2C217.7 140.4 219.5 139.6 221.4 138.9C223.2 138.1 225.1 137.3 227 136.6C228.9 135.8 230.9 135 232.9 134.3C234.8 133.6 236.8 132.8 238.8 132.1C240.8 131.4 242.8 130.7 244.8 130.1C246.8 129.4 248.8 128.7 250.8 128.1C252.7 127.5 254.7 126.9 256.6 126.4C258.5 125.8 260.4 125.3 262.3 124.9C264.1 124.4 266 123.9 267.7 123.5C269.5 123.1 271.2 122.8 272.8 122.4C274.4 122.1 276 121.8 277.5 121.6C279 121.3 280.4 121.1 281.8 120.9C283.1 120.7 284.4 120.5 285.5 120.4C286.6 120.3 287.7 120.2 288.7 120.1C289.6 120 290.4 120 291.2 119.9C291.9 119.9 292.5 119.9 293 119.9C293.5 119.9 293.9 119.9 294.2 119.9C294.4 120 294.5 120 294.6 120 L294.6 120C294.5 120.1 294.5 120.1 294.3 120.3C294.1 120.5 293.8 120.8 293.4 121.1C293.1 121.4 292.6 121.8 292 122.2C291.4 122.7 290.7 123.2 289.9 123.7C289.1 124.2 288.3 124.8 287.3 125.4C286.3 126.1 285.3 126.7 284.1 127.4C283 128.1 281.7 128.9 280.4 129.6C279.1 130.3 277.7 131.1 276.2 131.9C274.7 132.7 273.1 133.5 271.5 134.3C269.9 135.1 268.2 135.9 266.5 136.7C264.8 137.5 263 138.3 261.1 139.1C259.3 139.9 257.4 140.6 255.5 141.4C253.6 142.2 251.6 142.9 249.6 143.7C247.7 144.4 245.7 145.2 243.7 145.9C241.7 146.6 239.7 147.3 237.7 147.9C235.7 148.6 233.7 149.3 231.8 149.9C229.8 150.5 227.8 151.1 225.9 151.7C224 152.3 222.1 152.8 220.3 153.3C218.4 153.8 216.6 154.3 214.9 154.8C213.2 155.2 211.5 155.7 209.9 156.1C208.3 156.4 206.7 156.8 205.2 157.1C203.8 157.5 202.3 157.7 201 158C199.7 158.2 198.5 158.5 197.4 158.6C196.2 158.8 195.2 158.9 194.2 159C193.3 159.1 192.5 159.1 191.7 159.1C191 159.1 190.3 159.1 189.8 159C189.3 158.9 188.9 158.8 188.5 158.6C188.2 158.5 188 158.1 187.9 158" fill="none" stroke="#7a2fc4" stroke-width="1.6" stroke-linejoin="miter"/>
<path d="M40 10H81.6L40 44.45Z" fill="#dcdcdc"/>
</g>
<g style="font-family:'Liberation Serif',serif" font-size="9">
<text x="110.9" y="28.7" fill="#8a1cc0" stroke="#8a1cc0" stroke-width="0.15" textLength="137.2" lengthAdjust="spacingAndGlyphs">GW170817 excluded (Rezzolla et al.)</text>
<text x="344.5" y="38" fill="#5620c8" text-anchor="end">PSR J0740+6620</text>
<text x="344.5" y="49.4" fill="#1a1aff" text-anchor="end">PSR J0348+0432</text>
<text x="344.5" y="57.7" fill="#ff2020" text-anchor="end">PSR J1614-2230</text>
<text x="157.3" y="79.2" fill="#9090ff" opacity="0.8">GW190425</text>
<text x="85.9" y="114.9" fill="#9999ff">M<tspan font-size="6" dy="2.2">1</tspan><tspan dy="-2.2" x="107">GW170817</tspan></text>
<text x="85.5" y="130.1" fill="#ff9999">M<tspan font-size="6" dy="2.2">2</tspan><tspan dy="-2.2" x="108">GW170817</tspan></text>
</g>
<g style="font-family:'Liberation Serif',serif" font-size="6.8" fill="#1a001a" stroke="#1a001a" stroke-width="0.08">
<text x="50.9" y="98.9" textLength="57" lengthAdjust="spacingAndGlyphs">GW170817 excluded</text>
<text x="50.9" y="105" >(Bauswein et al.)</text>
<text x="247.4" y="117.8" textLength="99" lengthAdjust="spacingAndGlyphs">GW170817 excluded (Annala et al.)</text>
</g>
<g stroke="#000" stroke-width="0.85" fill="none">
<path d="M48.7 275.2h6M372.5 275.2h-6M48.7 252.5h6M372.5 252.5h-6M48.7 229.9h6M372.5 229.9h-6M48.7 207.2h6M372.5 207.2h-6M48.7 184.6h6M372.5 184.6h-6M48.7 161.9h6M372.5 161.9h-6M48.7 139.2h6M372.5 139.2h-6M48.7 116.6h6M372.5 116.6h-6M48.7 93.9h6M372.5 93.9h-6M48.7 71.3h6M372.5 71.3h-6M48.7 48.6h6M372.5 48.6h-6M48.7 25.9h6M372.5 25.9h-6M48.7 269.5h3M372.5 269.5h-3M48.7 263.9h3M372.5 263.9h-3M48.7 258.2h3M372.5 258.2h-3M48.7 246.9h3M372.5 246.9h-3M48.7 241.2h3M372.5 241.2h-3M48.7 235.5h3M372.5 235.5h-3M48.7 224.2h3M372.5 224.2h-3M48.7 218.5h3M372.5 218.5h-3M48.7 212.9h3M372.5 212.9h-3M48.7 201.6h3M372.5 201.6h-3M48.7 195.9h3M372.5 195.9h-3M48.7 190.2h3M372.5 190.2h-3M48.7 178.9h3M372.5 178.9h-3M48.7 173.2h3M372.5 173.2h-3M48.7 167.6h3M372.5 167.6h-3M48.7 156.2h3M372.5 156.2h-3M48.7 150.6h3M372.5 150.6h-3M48.7 144.9h3M372.5 144.9h-3M48.7 133.6h3M372.5 133.6h-3M48.7 127.9h3M372.5 127.9h-3M48.7 122.2h3M372.5 122.2h-3M48.7 110.9h3M372.5 110.9h-3M48.7 105.2h3M372.5 105.2h-3M48.7 99.6h3M372.5 99.6h-3M48.7 88.3h3M372.5 88.3h-3M48.7 82.6h3M372.5 82.6h-3M48.7 76.9h3M372.5 76.9h-3M48.7 65.6h3M372.5 65.6h-3M48.7 59.9h3M372.5 59.9h-3M48.7 54.3h3M372.5 54.3h-3M48.7 42.9h3M372.5 42.9h-3M48.7 37.3h3M372.5 37.3h-3M48.7 31.6h3M372.5 31.6h-3M48.7 20.3h3M372.5 20.3h-3M54.9 275.2v-6M54.9 16.2v6M73.5 275.2v-3M73.5 16.2v3M92.2 275.2v-6M92.2 16.2v6M110.8 275.2v-3M110.8 16.2v3M129.5 275.2v-6M129.5 16.2v6M148.1 275.2v-3M148.1 16.2v3M166.8 275.2v-6M166.8 16.2v6M185.4 275.2v-3M185.4 16.2v3M204.1 275.2v-6M204.1 16.2v6M222.7 275.2v-3M222.7 16.2v3M241.3 275.2v-6M241.3 16.2v6M260 275.2v-3M260 16.2v3M278.6 275.2v-6M278.6 16.2v6M297.3 275.2v-3M297.3 16.2v3M315.9 275.2v-6M315.9 16.2v6M334.6 275.2v-3M334.6 16.2v3M353.2 275.2v-6M353.2 16.2v6"/>
</g>
<rect x="223.9" y="211.9" width="148.6" height="63.3" fill="#fff"/>
<path d="M223.4 211.9H372.5" stroke="#666" stroke-width="0.8" fill="none"/>
<path d="M223.9 211.5V275.2" stroke="#222" stroke-width="1" fill="none"/>
<path d="M227.2 219.8H246.5" stroke="#7a2fc4" stroke-width="1.3"/>
<path d="M227.2 233.1H246.5" stroke="#1f8f1f" stroke-width="1.6" stroke-dasharray="7 3"/>
<path d="M227.2 246.5H246.5" stroke="#1414ff" stroke-width="1.6" stroke-dasharray="1.2 3 10 3"/>
<path d="M227.2 257.7H246.5" stroke="#1414ff" stroke-width="1.35" stroke-dasharray="6.4 3"/>
<path d="M227.2 268H246.5" stroke="#1c8a2c" stroke-width="1.3"/>
<g style="font-family:'Liberation Serif',serif" font-size="9" fill="#111" stroke="#111" stroke-width="0.12">
<text x="253.4" y="222.1" textLength="110.6" lengthAdjust="spacingAndGlyphs">μ<tspan font-size="6.3" dy="2.4">&lt;</tspan><tspan dy="-2.4"> = 1075, Δ</tspan><tspan font-size="6.3" dy="2.4">P</tspan><tspan dy="-2.4"> = 0 % for 1.2 M</tspan></text>
<circle cx="366.7" cy="223" r="1.9" fill="none" stroke="#111" stroke-width="0.65"/><circle cx="366.7" cy="223" r="0.55" fill="#111"/>
<text x="253.4" y="234.5" textLength="110.6" lengthAdjust="spacingAndGlyphs">μ<tspan font-size="6.3" dy="2.4">&lt;</tspan><tspan dy="-2.4"> = 1150, Δ</tspan><tspan font-size="6.3" dy="2.4">P</tspan><tspan dy="-2.4"> = 0 % for 1.4 M</tspan></text>
<circle cx="366.7" cy="235.4" r="1.9" fill="none" stroke="#111" stroke-width="0.65"/><circle cx="366.7" cy="235.4" r="0.55" fill="#111"/>
<text x="253.4" y="247.7" textLength="110.6" lengthAdjust="spacingAndGlyphs">μ<tspan font-size="6.3" dy="2.4">&lt;</tspan><tspan dy="-2.4"> = 1225, Δ</tspan><tspan font-size="6.3" dy="2.4">P</tspan><tspan dy="-2.4"> = 0 % for 1.6 M</tspan></text>
<circle cx="366.7" cy="248.6" r="1.9" fill="none" stroke="#111" stroke-width="0.65"/><circle cx="366.7" cy="248.6" r="0.55" fill="#111"/>
<text x="253.4" y="260.7">APR</text>
<text x="253.4" y="271">DD2p40</text>
</g>
<rect x="48.7" y="16.2" width="323.8" height="259" fill="none" stroke="#000" stroke-width="1.2"/>
<g style="font-family:'Liberation Serif',serif" font-size="13.3" fill="#1a1a1a" stroke="#1a1a1a" stroke-width="0.18">
<text x="45.9" y="279.9" text-anchor="end">0</text>
<text x="45.9" y="257.2" text-anchor="end">0.2</text>
<text x="45.9" y="234.6" text-anchor="end">0.4</text>
<text x="45.9" y="211.9" text-anchor="end">0.6</text>
<text x="45.9" y="189.3" text-anchor="end">0.8</text>
<text x="45.9" y="166.6" text-anchor="end">1</text>
<text x="45.9" y="143.9" text-anchor="end">1.2</text>
<text x="45.9" y="121.3" text-anchor="end">1.4</text>
<text x="45.9" y="98.6" text-anchor="end">1.6</text>
<text x="45.9" y="76" text-anchor="end">1.8</text>
<text x="45.9" y="53.3" text-anchor="end">2</text>
<text x="45.9" y="30.6" text-anchor="end">2.2</text>
<text x="54.9" y="287.8" text-anchor="middle">9</text>
<text x="92.2" y="287.8" text-anchor="middle">10</text>
<text x="129.5" y="287.8" text-anchor="middle">11</text>
<text x="166.8" y="287.8" text-anchor="middle">12</text>
<text x="204.1" y="287.8" text-anchor="middle">13</text>
<text x="241.3" y="287.8" text-anchor="middle">14</text>
<text x="278.6" y="287.8" text-anchor="middle">15</text>
<text x="315.9" y="287.8" text-anchor="middle">16</text>
<text x="353.2" y="287.8" text-anchor="middle">17</text>
<text x="191.9" y="301" font-size="13.4">R [km]</text>
<text transform="translate(20.3 164.5) rotate(-90)" font-size="12.8" textLength="22.5" lengthAdjust="spacingAndGlyphs">M[M</text>
<circle cx="22.3" cy="137.7" r="2.5" fill="none" stroke="#222" stroke-width="0.9"/><circle cx="22.3" cy="137.7" r="0.7" fill="#222" stroke="none"/>
<text transform="translate(20.3 130.3) rotate(-90)" font-size="12.8">]</text>
</g></g></svg>
</body></html>
